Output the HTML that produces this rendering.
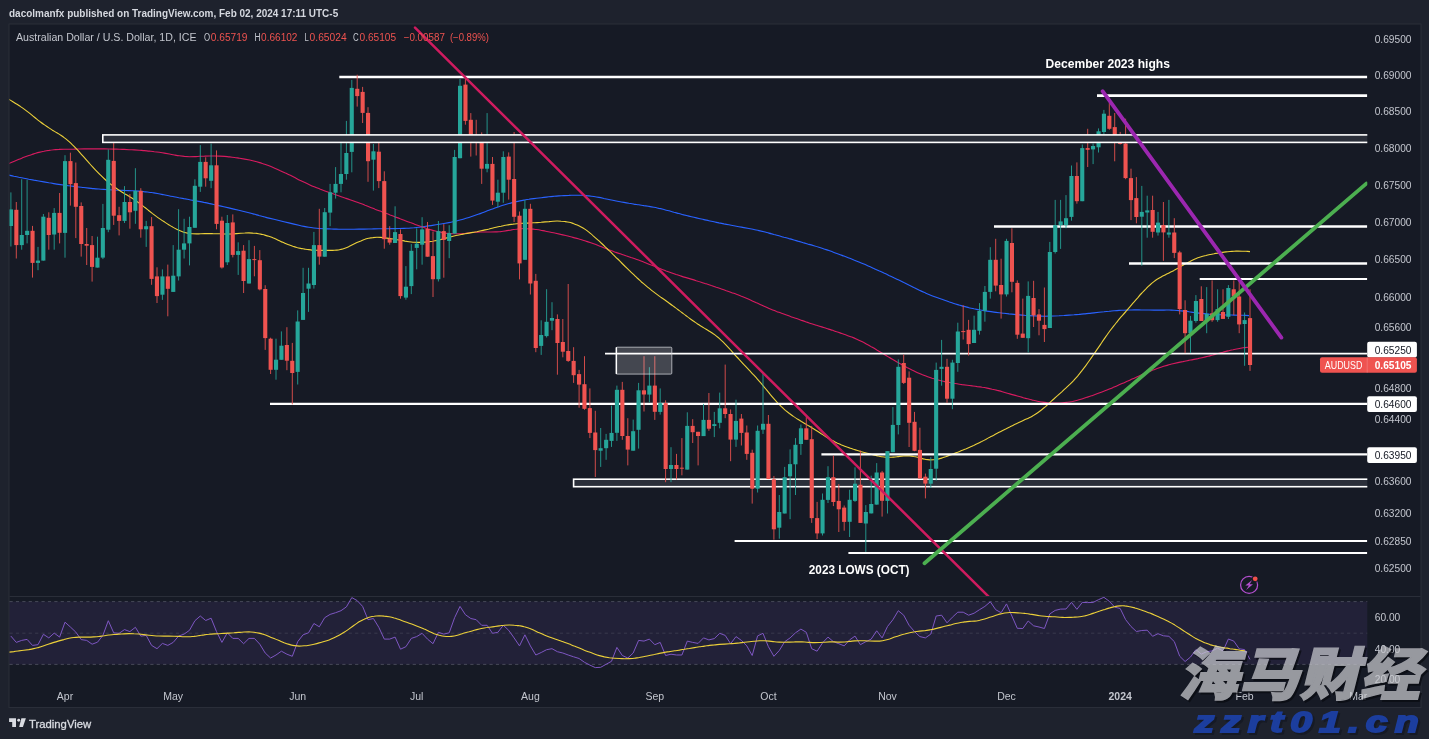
<!DOCTYPE html>
<html lang="en"><head><meta charset="utf-8"><title>AUDUSD chart</title>
<style>html,body{margin:0;padding:0;background:#1e222d;}body{width:1429px;height:739px;overflow:hidden;}svg{display:block;}</style>
</head><body>
<svg width="1429" height="739" viewBox="0 0 1429 739" font-family="'Liberation Sans', sans-serif">
<defs>
<clipPath id="cm"><rect x="9.5" y="24.5" width="1357.8" height="571.5"/></clipPath>
<clipPath id="cr"><rect x="9.5" y="596.5" width="1357.8" height="90"/></clipPath>
<filter id="bl" color-interpolation-filters="sRGB" x="-5%" y="-5%" width="110%" height="110%"><feGaussianBlur stdDeviation="0.45"/></filter>
<filter id="bl2" color-interpolation-filters="sRGB" x="0" y="0" width="100%" height="100%" filterUnits="userSpaceOnUse"><feGaussianBlur stdDeviation="0.35"/></filter>
</defs>
<rect width="1429" height="739" fill="#1e222d"/>
<g filter="url(#bl2)">
<rect x="9" y="24" width="1412" height="683.5" fill="#161a25" stroke="#2a2e39" stroke-width="1"/>
<text x="9" y="17.1" font-size="10.5" font-weight="700" fill="#d5d8df" textLength="329.2" lengthAdjust="spacingAndGlyphs">dacolmanfx published on TradingView.com, Feb 02, 2024 17:11 UTC-5</text>
<g clip-path="url(#cm)">
<path d="M8.8 175.1C9.7 175.3 12.2 175.8 13.8 176.2C15.5 176.5 17.2 176.8 18.8 177.2C20.5 177.5 22.2 177.9 23.8 178.2C25.5 178.5 27.2 178.8 28.8 179.2C30.5 179.5 32.2 179.8 33.8 180.1C35.5 180.4 37.2 180.7 38.8 181C40.5 181.3 42.2 181.6 43.8 181.9C45.5 182.2 47.2 182.5 48.8 182.8C50.5 183 52.2 183.3 53.8 183.6C55.5 183.9 57.2 184.2 58.8 184.4C60.5 184.7 62.2 184.9 63.8 185.1C65.5 185.4 67.2 185.6 68.8 185.8C70.5 186 72.2 186.2 73.8 186.4C75.5 186.6 77.2 186.8 78.8 187C80.5 187.2 82.2 187.3 83.8 187.5C85.5 187.7 87.2 187.9 88.8 188.1C90.5 188.3 92.2 188.4 93.8 188.6C95.5 188.8 97.2 188.9 98.8 189C100.5 189.2 102.2 189.3 103.8 189.4C105.5 189.5 107.2 189.6 108.8 189.7C110.5 189.8 112.2 189.9 113.8 190C115.5 190 117.2 190.1 118.8 190.2C120.5 190.2 122.2 190.3 123.8 190.4C125.5 190.4 127.2 190.5 128.8 190.6C130.5 190.7 132.2 190.7 133.8 190.8C135.5 190.9 137.2 191 138.8 191.1C140.5 191.2 142.2 191.4 143.8 191.6C145.5 191.7 147.2 192 148.8 192.2C150.5 192.4 152.2 192.7 153.8 192.9C155.5 193.2 157.2 193.5 158.8 193.8C160.5 194.1 162.2 194.5 163.8 194.8C165.5 195.1 167.2 195.4 168.8 195.7C170.5 196.1 172.2 196.4 173.8 196.7C175.5 197 177.2 197.3 178.8 197.7C180.5 198 182.2 198.3 183.8 198.6C185.5 198.9 187.2 199.2 188.8 199.5C190.5 199.9 192.2 200.2 193.8 200.5C195.5 200.8 197.2 201.1 198.8 201.4C200.5 201.7 202.2 202 203.8 202.4C205.5 202.7 207.2 203 208.8 203.4C210.5 203.7 212.2 204.1 213.8 204.5C215.5 204.8 217.2 205.2 218.8 205.6C220.5 205.9 222.2 206.3 223.8 206.7C225.5 207.1 227.2 207.5 228.8 207.9C230.5 208.3 232.2 208.7 233.8 209.1C235.5 209.5 237.2 209.9 238.8 210.3C240.5 210.7 242.2 211.1 243.8 211.5C245.5 212 247.2 212.4 248.9 212.8C250.5 213.3 252.2 213.7 253.9 214.1C255.5 214.6 257.2 215 258.9 215.5C260.5 215.9 262.2 216.4 263.9 216.8C265.5 217.2 267.2 217.7 268.9 218.1C270.5 218.5 272.2 218.9 273.9 219.3C275.5 219.7 277.2 220.1 278.9 220.5C280.5 220.9 282.2 221.3 283.9 221.7C285.5 222.1 287.2 222.5 288.9 222.9C290.5 223.3 292.2 223.7 293.9 224.1C295.5 224.5 297.2 224.9 298.9 225.3C300.5 225.7 302.2 226.1 303.9 226.4C305.5 226.8 307.2 227.1 308.9 227.3C310.5 227.6 312.2 227.8 313.9 228C315.5 228.2 317.2 228.4 318.9 228.5C320.5 228.6 322.2 228.7 323.9 228.8C325.5 228.8 327.2 228.9 328.9 228.9C330.5 229 332.2 229 333.9 229.1C335.5 229.1 337.2 229.2 338.9 229.2C340.5 229.2 342.2 229.2 343.9 229.3C345.5 229.3 347.2 229.3 348.9 229.3C350.5 229.3 352.2 229.2 353.9 229.2C355.5 229.2 357.2 229.2 358.9 229.1C360.5 229.1 362.2 229.1 363.9 229.1C365.5 229 367.2 229 368.9 229C370.5 229 372.2 228.9 373.9 228.9C375.5 228.9 377.2 228.9 378.9 228.8C380.5 228.8 382.2 228.8 383.9 228.8C385.5 228.7 387.2 228.7 388.9 228.7C390.5 228.7 392.2 228.6 393.9 228.6C395.5 228.6 397.2 228.6 398.9 228.5C400.5 228.5 402.2 228.5 403.9 228.4C405.5 228.3 407.2 228.3 408.9 228.2C410.5 228 412.2 227.9 413.9 227.8C415.5 227.6 417.2 227.5 418.9 227.3C420.5 227.1 422.2 226.9 423.9 226.6C425.5 226.4 427.2 226.2 428.9 225.9C430.5 225.7 432.2 225.4 433.9 225.1C435.5 224.9 437.2 224.6 438.9 224.3C440.5 224.1 442.2 223.8 443.9 223.5C445.5 223.2 447.2 222.9 448.9 222.6C450.5 222.3 452.2 221.9 453.9 221.5C455.5 221.2 457.2 220.8 458.9 220.3C460.5 219.9 462.2 219.5 463.9 219C465.5 218.5 467.2 218 468.9 217.5C470.5 217 472.2 216.4 473.9 215.8C475.5 215.3 477.2 214.7 478.9 214.1C480.5 213.5 482.2 212.9 483.9 212.2C485.5 211.6 487.2 211 488.9 210.3C490.5 209.7 492.2 209 493.9 208.4C495.6 207.8 497.2 207.2 498.9 206.7C500.6 206.1 502.2 205.6 503.9 205C505.6 204.5 507.2 204 508.9 203.5C510.6 203.1 512.2 202.6 513.9 202.2C515.6 201.8 517.2 201.5 518.9 201.1C520.6 200.8 522.2 200.4 523.9 200.1C525.6 199.8 527.2 199.5 528.9 199.3C530.6 199 532.2 198.8 533.9 198.6C535.6 198.4 537.2 198.2 538.9 198C540.6 197.8 542.2 197.6 543.9 197.4C545.6 197.2 547.2 197 548.9 196.8C550.6 196.7 552.2 196.5 553.9 196.3C555.6 196.2 557.2 196 558.9 195.9C560.6 195.8 562.2 195.7 563.9 195.6C565.6 195.5 567.2 195.4 568.9 195.4C570.6 195.3 572.2 195.3 573.9 195.2C575.6 195.2 577.2 195.2 578.9 195.2C580.6 195.3 582.2 195.3 583.9 195.4C585.6 195.6 587.2 195.7 588.9 195.9C590.6 196.1 592.2 196.3 593.9 196.5C595.6 196.8 597.2 197.1 598.9 197.4C600.6 197.7 602.2 198.1 603.9 198.5C605.6 198.8 607.2 199.2 608.9 199.5C610.6 199.8 612.2 200.2 613.9 200.5C615.6 200.9 617.2 201.2 618.9 201.5C620.6 201.8 622.2 202.1 623.9 202.4C625.6 202.7 627.2 203 628.9 203.3C630.6 203.5 632.2 203.8 633.9 204.1C635.6 204.3 637.2 204.6 638.9 204.8C640.6 205.1 642.2 205.3 643.9 205.6C645.6 205.8 647.2 206.1 648.9 206.4C650.6 206.7 652.2 207 653.9 207.3C655.6 207.6 657.2 208 658.9 208.4C660.6 208.7 662.2 209.1 663.9 209.5C665.6 210 667.2 210.4 668.9 210.8C670.6 211.3 672.2 211.7 673.9 212.2C675.6 212.6 677.2 213.1 678.9 213.5C680.6 214 682.2 214.4 683.9 214.9C685.6 215.3 687.2 215.7 688.9 216.1C690.6 216.5 692.2 216.9 693.9 217.3C695.6 217.7 697.2 218.1 698.9 218.5C700.6 218.9 702.2 219.2 703.9 219.6C705.6 220 707.2 220.3 708.9 220.7C710.6 221.1 712.2 221.4 713.9 221.8C715.6 222.2 717.2 222.5 718.9 222.9C720.6 223.2 722.2 223.5 723.9 223.9C725.6 224.2 727.2 224.5 728.9 224.8C730.6 225.2 732.2 225.5 733.9 225.8C735.6 226.1 737.2 226.4 738.9 226.7C740.6 227 742.2 227.3 743.9 227.6C745.6 227.9 747.3 228.2 748.9 228.5C750.6 228.8 752.3 229.2 753.9 229.5C755.6 229.9 757.3 230.2 758.9 230.6C760.6 231 762.3 231.4 763.9 231.8C765.6 232.2 767.3 232.7 768.9 233.1C770.6 233.5 772.3 234 773.9 234.5C775.6 234.9 777.3 235.4 778.9 235.8C780.6 236.3 782.3 236.7 783.9 237.2C785.6 237.6 787.3 238.1 788.9 238.6C790.6 239 792.3 239.5 793.9 240C795.6 240.5 797.3 240.9 798.9 241.4C800.6 241.9 802.3 242.4 803.9 242.9C805.6 243.4 807.3 243.9 808.9 244.4C810.6 244.8 812.3 245.3 813.9 245.8C815.6 246.3 817.3 246.8 818.9 247.3C820.6 247.9 822.3 248.4 823.9 248.9C825.6 249.5 827.3 250 828.9 250.6C830.6 251.2 832.3 251.8 833.9 252.4C835.6 253 837.3 253.6 838.9 254.2C840.6 254.8 842.3 255.5 843.9 256.1C845.6 256.7 847.3 257.4 848.9 258C850.6 258.7 852.3 259.3 853.9 260C855.6 260.6 857.3 261.3 858.9 262C860.6 262.7 862.3 263.4 863.9 264.1C865.6 264.8 867.3 265.6 868.9 266.3C870.6 267 872.3 267.8 873.9 268.5C875.6 269.3 877.3 270 878.9 270.8C880.6 271.5 882.3 272.3 883.9 273.1C885.6 273.8 887.3 274.6 888.9 275.4C890.6 276.1 892.3 276.9 893.9 277.7C895.6 278.5 897.3 279.3 898.9 280.1C900.6 280.9 902.3 281.8 903.9 282.6C905.6 283.4 907.3 284.3 908.9 285.1C910.6 285.9 912.3 286.8 913.9 287.6C915.6 288.4 917.3 289.2 918.9 290C920.6 290.8 922.3 291.6 923.9 292.3C925.6 293 927.3 293.8 928.9 294.4C930.6 295.1 932.3 295.8 933.9 296.4C935.6 297.1 937.3 297.7 938.9 298.3C940.6 298.9 942.3 299.4 943.9 300C945.6 300.6 947.3 301.2 948.9 301.8C950.6 302.3 952.3 302.9 953.9 303.4C955.6 304 957.3 304.5 958.9 305C960.6 305.5 962.3 305.9 963.9 306.4C965.6 306.8 967.3 307.3 968.9 307.7C970.6 308.1 972.3 308.4 973.9 308.8C975.6 309.1 977.3 309.5 978.9 309.8C980.6 310.1 982.3 310.4 983.9 310.6C985.6 310.9 987.3 311.2 988.9 311.4C990.6 311.7 992.3 311.9 994 312.1C995.6 312.4 997.3 312.6 999 312.8C1000.6 313 1002.3 313.1 1004 313.3C1005.6 313.5 1007.3 313.7 1009 313.9C1010.6 314.1 1012.3 314.3 1014 314.4C1015.6 314.6 1017.3 314.7 1019 314.9C1020.6 315 1022.3 315.1 1024 315.3C1025.6 315.4 1027.3 315.5 1029 315.6C1030.6 315.7 1032.3 315.8 1034 315.9C1035.6 316 1037.3 316 1039 316.1C1040.6 316.1 1042.3 316.2 1044 316.2C1045.6 316.2 1047.3 316.2 1049 316.1C1050.6 316.1 1052.3 316.1 1054 316C1055.6 315.9 1057.3 315.8 1059 315.8C1060.6 315.7 1062.3 315.6 1064 315.5C1065.6 315.3 1067.3 315.2 1069 315.1C1070.6 315 1072.3 314.9 1074 314.8C1075.6 314.6 1077.3 314.5 1079 314.4C1080.6 314.2 1082.3 314.1 1084 313.9C1085.6 313.7 1087.3 313.6 1089 313.4C1090.6 313.2 1092.3 313.1 1094 312.9C1095.6 312.7 1097.3 312.5 1099 312.3C1100.6 312.1 1102.3 311.9 1104 311.8C1105.6 311.6 1107.3 311.4 1109 311.3C1110.6 311.1 1112.3 311 1114 310.8C1115.6 310.7 1117.3 310.6 1119 310.4C1120.6 310.3 1122.3 310.3 1124 310.2C1125.6 310.1 1127.3 310.1 1129 310C1130.6 310 1132.3 309.9 1134 309.9C1135.6 309.9 1137.3 309.9 1139 309.9C1140.6 309.9 1142.3 310 1144 310C1145.6 310 1147.3 310 1149 310C1150.6 310.1 1152.3 310.1 1154 310.1C1155.6 310.1 1157.3 310.1 1159 310.1C1160.6 310.1 1162.3 310.1 1164 310.1C1165.6 310.1 1167.3 310 1169 310C1170.6 310.1 1172.3 310.1 1174 310.2C1175.6 310.3 1177.3 310.4 1179 310.6C1180.6 310.7 1182.3 310.9 1184 311.1C1185.6 311.3 1187.3 311.5 1189 311.8C1190.6 312 1192.3 312.3 1194 312.5C1195.6 312.7 1197.3 312.9 1199 313.1C1200.6 313.3 1202.3 313.5 1204 313.6C1205.6 313.8 1207.3 313.9 1209 314.1C1210.6 314.2 1212.3 314.3 1214 314.4C1215.6 314.5 1217.3 314.6 1219 314.7C1220.6 314.8 1222.3 314.8 1224 314.9C1225.6 314.9 1227.3 314.9 1229 315C1230.6 315 1232.3 315.1 1234 315.1C1235.6 315.2 1237.3 315.2 1239 315.2C1240.7 315.3 1242.3 315.3 1244 315.3C1245.7 315.4 1248.2 315.5 1249 315.6" fill="none" stroke="#2962ff" stroke-width="1.1" stroke-linejoin="round"/>
<path d="M8.8 163.6C9.7 163.2 12.2 162.1 13.8 161.4C15.5 160.7 17.2 160 18.9 159.3C20.5 158.6 22.2 158 23.9 157.3C25.5 156.7 27.2 156.1 28.9 155.5C30.6 155 32.2 154.4 33.9 153.9C35.6 153.4 37.3 152.8 38.9 152.4C40.6 152 42.3 151.6 43.9 151.3C45.6 150.9 47.3 150.6 49 150.4C50.6 150.1 52.3 149.9 54 149.7C55.6 149.6 57.3 149.4 59 149.4C60.7 149.3 62.3 149.3 64 149.3C65.7 149.2 67.4 149.2 69 149.2C70.7 149.1 72.4 149.1 74 149.1C75.7 149 77.4 149 79.1 149C80.7 149 82.4 149 84.1 148.9C85.8 148.9 87.4 148.9 89.1 148.9C90.8 148.9 92.4 148.9 94.1 148.9C95.8 148.9 97.5 148.9 99.1 148.9C100.8 148.9 102.5 148.9 104.2 148.9C105.8 148.9 107.5 148.9 109.2 149C110.8 149 112.5 149 114.2 149.1C115.9 149.1 117.5 149.2 119.2 149.2C120.9 149.3 122.5 149.4 124.2 149.4C125.9 149.5 127.6 149.6 129.2 149.7C130.9 149.8 132.6 149.8 134.3 149.9C135.9 150 137.6 150.1 139.3 150.2C140.9 150.3 142.6 150.5 144.3 150.6C146 150.8 147.6 150.9 149.3 151.1C151 151.3 152.7 151.4 154.3 151.7C156 151.9 157.7 152.1 159.3 152.3C161 152.6 162.7 152.9 164.4 153.1C166 153.4 167.7 153.7 169.4 154C171.1 154.4 172.7 154.7 174.4 155C176.1 155.3 177.7 155.6 179.4 155.8C181.1 156 182.8 156.2 184.4 156.4C186.1 156.5 187.8 156.6 189.4 156.7C191.1 156.7 192.8 156.7 194.5 156.6C196.1 156.6 197.8 156.4 199.5 156.3C201.2 156.2 202.8 156.1 204.5 156.1C206.2 156 207.8 156 209.5 156C211.2 156 212.9 156 214.5 156C216.2 156 217.9 156 219.6 156.1C221.2 156.2 222.9 156.3 224.6 156.4C226.2 156.6 227.9 156.7 229.6 156.9C231.3 157.1 232.9 157.3 234.6 157.5C236.3 157.7 238 158 239.6 158.2C241.3 158.5 243 158.8 244.6 159.1C246.3 159.4 248 159.7 249.7 160C251.3 160.4 253 160.8 254.7 161.2C256.3 161.6 258 162.1 259.7 162.6C261.4 163.1 263 163.7 264.7 164.2C266.4 164.8 268.1 165.4 269.7 166.1C271.4 166.8 273.1 167.5 274.7 168.2C276.4 168.9 278.1 169.6 279.8 170.4C281.4 171.1 283.1 171.9 284.8 172.7C286.5 173.4 288.1 174.3 289.8 175.1C291.5 175.9 293.1 176.8 294.8 177.6C296.5 178.5 298.2 179.3 299.8 180.2C301.5 181 303.2 181.8 304.9 182.6C306.5 183.4 308.2 184.2 309.9 184.9C311.5 185.7 313.2 186.4 314.9 187.1C316.6 187.8 318.2 188.4 319.9 189.1C321.6 189.7 323.2 190.3 324.9 190.9C326.6 191.5 328.3 192.1 329.9 192.7C331.6 193.3 333.3 193.9 335 194.5C336.6 195.1 338.3 195.7 340 196.3C341.6 196.9 343.3 197.4 345 198C346.7 198.6 348.3 199.2 350 199.7C351.7 200.3 353.4 200.9 355 201.5C356.7 202.1 358.4 202.7 360 203.3C361.7 203.9 363.4 204.5 365.1 205.2C366.7 205.8 368.4 206.5 370.1 207.2C371.7 207.9 373.4 208.5 375.1 209.2C376.8 209.8 378.4 210.5 380.1 211.1C381.8 211.8 383.5 212.4 385.1 213.1C386.8 213.7 388.5 214.3 390.1 215C391.8 215.6 393.5 216.2 395.2 216.9C396.8 217.5 398.5 218.1 400.2 218.8C401.9 219.4 403.5 220.1 405.2 220.7C406.9 221.3 408.5 221.9 410.2 222.6C411.9 223.2 413.6 223.8 415.2 224.4C416.9 225 418.6 225.6 420.3 226.2C421.9 226.8 423.6 227.5 425.3 228C426.9 228.6 428.6 229.1 430.3 229.6C432 230.1 433.6 230.6 435.3 231C437 231.4 438.6 231.8 440.3 232.1C442 232.5 443.7 232.8 445.3 233.1C447 233.3 448.7 233.5 450.4 233.6C452 233.7 453.7 233.8 455.4 233.8C457 233.8 458.7 233.8 460.4 233.7C462.1 233.7 463.7 233.5 465.4 233.4C467.1 233.2 468.8 233 470.4 232.8C472.1 232.7 473.8 232.5 475.4 232.3C477.1 232.2 478.8 232.1 480.5 232C482.1 232 483.8 232 485.5 232C487.2 232 488.8 232 490.5 232C492.2 232 493.8 232 495.5 231.9C497.2 231.9 498.9 231.7 500.5 231.6C502.2 231.4 503.9 231.1 505.5 230.9C507.2 230.6 508.9 230.3 510.6 230.1C512.2 229.8 513.9 229.5 515.6 229.3C517.3 229 518.9 228.8 520.6 228.7C522.3 228.6 523.9 228.5 525.6 228.6C527.3 228.6 529 228.7 530.6 228.9C532.3 229 534 229.2 535.7 229.5C537.3 229.7 539 229.9 540.7 230.2C542.3 230.5 544 230.9 545.7 231.2C547.4 231.5 549 231.9 550.7 232.2C552.4 232.5 554.1 232.9 555.7 233.2C557.4 233.6 559.1 234 560.7 234.4C562.4 234.7 564.1 235.1 565.8 235.5C567.4 235.9 569.1 236.4 570.8 236.8C572.4 237.2 574.1 237.7 575.8 238.1C577.5 238.6 579.1 239 580.8 239.5C582.5 240 584.2 240.5 585.8 241.1C587.5 241.6 589.2 242.2 590.8 242.8C592.5 243.4 594.2 244 595.9 244.6C597.5 245.3 599.2 245.9 600.9 246.6C602.6 247.3 604.2 248 605.9 248.6C607.6 249.3 609.2 249.9 610.9 250.5C612.6 251.2 614.3 251.8 615.9 252.4C617.6 252.9 619.3 253.5 621 254.1C622.6 254.7 624.3 255.2 626 255.8C627.6 256.3 629.3 256.9 631 257.5C632.7 258 634.3 258.6 636 259.2C637.7 259.8 639.3 260.4 641 261C642.7 261.7 644.4 262.3 646 262.9C647.7 263.6 649.4 264.3 651.1 264.9C652.7 265.6 654.4 266.3 656.1 266.9C657.7 267.6 659.4 268.3 661.1 268.9C662.8 269.6 664.4 270.2 666.1 270.9C667.8 271.5 669.5 272.1 671.1 272.7C672.8 273.3 674.5 273.9 676.1 274.5C677.8 275 679.5 275.6 681.2 276.1C682.8 276.6 684.5 277.1 686.2 277.6C687.9 278.1 689.5 278.6 691.2 279.1C692.9 279.6 694.5 280.1 696.2 280.7C697.9 281.2 699.6 281.7 701.2 282.2C702.9 282.7 704.6 283.3 706.2 283.8C707.9 284.3 709.6 284.9 711.3 285.5C712.9 286 714.6 286.6 716.3 287.2C718 287.7 719.6 288.3 721.3 288.9C723 289.5 724.6 290.1 726.3 290.7C728 291.2 729.7 291.8 731.3 292.4C733 293 734.7 293.7 736.4 294.3C738 294.9 739.7 295.6 741.4 296.3C743 296.9 744.7 297.6 746.4 298.3C748.1 299.1 749.7 299.8 751.4 300.5C753.1 301.3 754.8 302 756.4 302.8C758.1 303.5 759.8 304.3 761.4 305C763.1 305.8 764.8 306.5 766.5 307.2C768.1 308 769.8 308.7 771.5 309.4C773.1 310.1 774.8 310.7 776.5 311.4C778.2 312 779.8 312.7 781.5 313.3C783.2 313.9 784.9 314.5 786.5 315.1C788.2 315.7 789.9 316.3 791.5 316.9C793.2 317.5 794.9 318 796.6 318.6C798.2 319.2 799.9 319.8 801.6 320.4C803.3 320.9 804.9 321.5 806.6 322.1C808.3 322.6 809.9 323.2 811.6 323.7C813.3 324.3 815 324.8 816.6 325.3C818.3 325.9 820 326.4 821.7 326.9C823.3 327.4 825 328 826.7 328.5C828.3 329 830 329.6 831.7 330.1C833.4 330.7 835 331.2 836.7 331.8C838.4 332.3 840 332.9 841.7 333.5C843.4 334.1 845.1 334.6 846.7 335.2C848.4 335.8 850.1 336.5 851.8 337.1C853.4 337.8 855.1 338.5 856.8 339.2C858.4 340 860.1 340.8 861.8 341.6C863.5 342.4 865.1 343.3 866.8 344.2C868.5 345.1 870.2 346.1 871.8 347.1C873.5 348 875.2 349 876.8 350C878.5 351 880.2 352 881.9 353C883.5 354 885.2 355 886.9 356C888.6 357 890.2 358 891.9 359C893.6 360 895.2 361 896.9 361.9C898.6 362.9 900.3 363.8 901.9 364.8C903.6 365.7 905.3 366.6 906.9 367.5C908.6 368.3 910.3 369.2 912 370.1C913.6 370.9 915.3 371.7 917 372.4C918.7 373.2 920.3 373.9 922 374.6C923.7 375.2 925.3 375.9 927 376.5C928.7 377.1 930.4 377.7 932 378.3C933.7 378.8 935.4 379.3 937.1 379.7C938.7 380.2 940.4 380.6 942.1 381C943.7 381.4 945.4 381.7 947.1 382.1C948.8 382.4 950.4 382.7 952.1 383C953.8 383.3 955.5 383.6 957.1 383.8C958.8 384.1 960.5 384.3 962.1 384.6C963.8 384.8 965.5 385 967.2 385.2C968.8 385.5 970.5 385.7 972.2 385.9C973.8 386.1 975.5 386.3 977.2 386.6C978.9 386.8 980.5 387 982.2 387.3C983.9 387.5 985.6 387.8 987.2 388.1C988.9 388.4 990.6 388.8 992.2 389.2C993.9 389.5 995.6 389.9 997.3 390.4C998.9 390.8 1000.6 391.2 1002.3 391.7C1004 392.2 1005.6 392.7 1007.3 393.2C1009 393.7 1010.6 394.1 1012.3 394.6C1014 395.1 1015.7 395.6 1017.3 396C1019 396.5 1020.7 397 1022.4 397.4C1024 397.9 1025.7 398.3 1027.4 398.7C1029 399.2 1030.7 399.6 1032.4 400.1C1034.1 400.5 1035.7 400.9 1037.4 401.2C1039.1 401.6 1040.7 401.9 1042.4 402.1C1044.1 402.4 1045.8 402.6 1047.4 402.7C1049.1 402.9 1050.8 403 1052.5 403C1054.1 403.1 1055.8 403.1 1057.5 403.1C1059.1 403.1 1060.8 403 1062.5 402.8C1064.2 402.7 1065.8 402.5 1067.5 402.3C1069.2 402.1 1070.9 401.8 1072.5 401.5C1074.2 401.1 1075.9 400.7 1077.5 400.3C1079.2 399.9 1080.9 399.3 1082.6 398.8C1084.2 398.3 1085.9 397.7 1087.6 397.1C1089.3 396.6 1090.9 396 1092.6 395.4C1094.3 394.8 1095.9 394.2 1097.6 393.6C1099.3 393 1101 392.4 1102.6 391.7C1104.3 391.1 1106 390.4 1107.6 389.7C1109.3 389 1111 388.4 1112.7 387.7C1114.3 387 1116 386.3 1117.7 385.5C1119.4 384.8 1121 384.1 1122.7 383.3C1124.4 382.6 1126 381.8 1127.7 381.1C1129.4 380.3 1131.1 379.6 1132.7 378.8C1134.4 378 1136.1 377.3 1137.8 376.5C1139.4 375.8 1141.1 375 1142.8 374.3C1144.4 373.6 1146.1 372.8 1147.8 372.2C1149.5 371.5 1151.1 370.8 1152.8 370.1C1154.5 369.5 1156.2 368.8 1157.8 368.2C1159.5 367.6 1161.2 367.1 1162.8 366.6C1164.5 366.1 1166.2 365.6 1167.9 365.1C1169.5 364.7 1171.2 364.2 1172.9 363.8C1174.5 363.4 1176.2 363 1177.9 362.6C1179.6 362.2 1181.2 361.9 1182.9 361.6C1184.6 361.2 1186.3 360.9 1187.9 360.6C1189.6 360.3 1191.3 359.9 1192.9 359.6C1194.6 359.3 1196.3 358.9 1198 358.6C1199.6 358.2 1201.3 357.9 1203 357.5C1204.7 357.1 1206.3 356.7 1208 356.3C1209.7 355.9 1211.3 355.4 1213 355C1214.7 354.5 1216.4 354.1 1218 353.6C1219.7 353.1 1221.4 352.7 1223.1 352.2C1224.7 351.8 1226.4 351.3 1228.1 350.9C1229.7 350.4 1231.4 350 1233.1 349.7C1234.8 349.3 1236.4 349 1238.1 348.7C1239.8 348.4 1241.4 348.1 1243.1 347.8C1244.8 347.6 1247.3 347.3 1248.1 347.2" fill="none" stroke="#d81b60" stroke-width="1.1" stroke-linejoin="round"/>
<path d="M8.5 99.1C9.1 99.5 11.1 100.7 12.5 101.5C13.8 102.3 15.1 103.1 16.5 104C17.8 104.8 19.1 105.7 20.5 106.6C21.8 107.5 23.1 108.4 24.5 109.4C25.8 110.4 27.1 111.4 28.5 112.4C29.8 113.4 31.2 114.5 32.5 115.6C33.8 116.7 35.2 117.8 36.5 118.9C37.8 120 39.2 121 40.5 122C41.8 123 43.2 124 44.5 124.9C45.8 125.8 47.2 126.7 48.5 127.6C49.8 128.5 51.2 129.3 52.5 130.2C53.8 131 55.2 131.8 56.5 132.6C57.9 133.4 59.2 134.1 60.5 135C61.9 135.9 63.2 136.8 64.5 137.9C65.9 138.9 67.2 140 68.5 141.1C69.9 142.3 71.2 143.5 72.5 144.8C73.9 146.1 75.2 147.4 76.5 148.9C77.9 150.3 79.2 151.8 80.5 153.4C81.9 154.9 83.2 156.4 84.6 157.9C85.9 159.4 87.2 160.9 88.6 162.4C89.9 163.9 91.2 165.5 92.6 166.9C93.9 168.4 95.2 169.8 96.6 171.2C97.9 172.6 99.2 173.9 100.6 175.2C101.9 176.5 103.2 177.8 104.6 179C105.9 180.2 107.2 181.4 108.6 182.5C109.9 183.6 111.3 184.6 112.6 185.6C113.9 186.6 115.3 187.6 116.6 188.5C117.9 189.5 119.3 190.3 120.6 191.2C121.9 192.1 123.3 192.9 124.6 193.7C125.9 194.5 127.3 195.2 128.6 196C129.9 196.8 131.3 197.6 132.6 198.5C133.9 199.3 135.3 200.2 136.6 201.2C138 202.1 139.3 203.1 140.6 204.1C142 205.1 143.3 206.2 144.6 207.3C146 208.3 147.3 209.5 148.6 210.5C150 211.6 151.3 212.6 152.6 213.6C154 214.6 155.3 215.6 156.6 216.6C158 217.6 159.3 218.5 160.6 219.4C162 220.4 163.3 221.2 164.7 222.1C166 223 167.3 223.9 168.7 224.7C170 225.5 171.3 226.4 172.7 227.1C174 227.9 175.3 228.6 176.7 229.3C178 229.9 179.3 230.6 180.7 231.1C182 231.7 183.3 232.1 184.7 232.5C186 232.9 187.3 233.1 188.7 233.4C190 233.6 191.4 233.7 192.7 233.8C194 233.9 195.4 233.9 196.7 233.9C198 233.9 199.4 233.8 200.7 233.8C202 233.7 203.4 233.6 204.7 233.6C206 233.6 207.4 233.6 208.7 233.5C210 233.5 211.4 233.5 212.7 233.6C214 233.6 215.4 233.6 216.7 233.7C218.1 233.7 219.4 233.8 220.7 233.8C222.1 233.9 223.4 234 224.7 234C226.1 234 227.4 234 228.7 234C230.1 234 231.4 233.9 232.7 233.9C234.1 233.8 235.4 233.7 236.7 233.6C238.1 233.5 239.4 233.4 240.7 233.3C242.1 233.1 243.4 233 244.8 233C246.1 232.9 247.4 232.9 248.8 232.9C250.1 232.9 251.4 233 252.8 233.1C254.1 233.1 255.4 233.3 256.8 233.4C258.1 233.6 259.4 233.9 260.8 234.1C262.1 234.4 263.4 234.8 264.8 235.1C266.1 235.5 267.4 235.9 268.8 236.3C270.1 236.8 271.5 237.2 272.8 237.8C274.1 238.3 275.5 238.9 276.8 239.5C278.1 240.1 279.5 240.8 280.8 241.4C282.1 242 283.5 242.6 284.8 243.2C286.1 243.8 287.5 244.3 288.8 244.8C290.1 245.3 291.5 245.8 292.8 246.3C294.1 246.7 295.5 247.1 296.8 247.5C298.2 247.8 299.5 248.1 300.8 248.4C302.2 248.6 303.5 248.9 304.8 249.1C306.2 249.3 307.5 249.5 308.8 249.6C310.2 249.8 311.5 249.9 312.8 250.1C314.2 250.2 315.5 250.2 316.8 250.3C318.2 250.4 319.5 250.4 320.8 250.4C322.2 250.4 323.5 250.4 324.9 250.4C326.2 250.4 327.5 250.4 328.9 250.4C330.2 250.4 331.5 250.4 332.9 250.4C334.2 250.3 335.5 250.3 336.9 250.1C338.2 250 339.5 249.7 340.9 249.4C342.2 249.1 343.5 248.7 344.9 248.2C346.2 247.8 347.5 247.2 348.9 246.6C350.2 246 351.6 245.3 352.9 244.6C354.2 244 355.6 243.3 356.9 242.6C358.2 242 359.6 241.4 360.9 240.9C362.2 240.3 363.6 239.7 364.9 239.3C366.2 238.8 367.6 238.5 368.9 238.2C370.2 237.9 371.6 237.7 372.9 237.6C374.2 237.4 375.6 237.3 376.9 237.3C378.3 237.3 379.6 237.3 380.9 237.4C382.3 237.5 383.6 237.7 384.9 237.9C386.3 238 387.6 238.2 388.9 238.4C390.3 238.6 391.6 238.8 392.9 239C394.3 239.2 395.6 239.5 396.9 239.7C398.3 239.9 399.6 240.1 400.9 240.4C402.3 240.6 403.6 240.8 405 241.1C406.3 241.3 407.6 241.5 409 241.7C410.3 241.9 411.6 242.1 413 242.2C414.3 242.3 415.6 242.3 417 242.4C418.3 242.4 419.6 242.4 421 242.4C422.3 242.3 423.6 242.2 425 242.1C426.3 242 427.6 241.9 429 241.7C430.3 241.6 431.7 241.4 433 241.2C434.3 240.9 435.7 240.7 437 240.4C438.3 240.1 439.7 239.8 441 239.5C442.3 239.2 443.7 238.8 445 238.4C446.3 238.1 447.7 237.6 449 237.3C450.3 236.9 451.7 236.6 453 236.2C454.3 235.9 455.7 235.6 457 235.3C458.4 235 459.7 234.8 461 234.5C462.4 234.3 463.7 234 465 233.8C466.4 233.6 467.7 233.4 469 233.1C470.4 232.9 471.7 232.7 473 232.4C474.4 232.2 475.7 231.9 477 231.7C478.4 231.4 479.7 231.1 481 230.8C482.4 230.5 483.7 230.2 485.1 229.9C486.4 229.6 487.7 229.3 489.1 229C490.4 228.6 491.7 228.3 493.1 228C494.4 227.7 495.7 227.3 497.1 227C498.4 226.7 499.7 226.4 501.1 226.2C502.4 225.9 503.7 225.6 505.1 225.3C506.4 225.1 507.7 224.8 509.1 224.6C510.4 224.4 511.8 224.2 513.1 224.1C514.4 223.9 515.8 223.8 517.1 223.7C518.4 223.6 519.8 223.5 521.1 223.4C522.4 223.3 523.8 223.3 525.1 223.2C526.4 223.2 527.8 223.1 529.1 223.1C530.4 223 531.8 222.9 533.1 222.8C534.4 222.8 535.8 222.7 537.1 222.6C538.5 222.5 539.8 222.4 541.1 222.3C542.5 222.1 543.8 222 545.1 221.9C546.5 221.8 547.8 221.7 549.1 221.6C550.5 221.4 551.8 221.3 553.1 221.2C554.5 221.1 555.8 221 557.1 221C558.5 221 559.8 221.1 561.1 221.2C562.5 221.2 563.8 221.4 565.2 221.6C566.5 221.8 567.8 222 569.2 222.3C570.5 222.6 571.8 223 573.2 223.4C574.5 223.9 575.8 224.4 577.2 225C578.5 225.6 579.8 226.3 581.2 227C582.5 227.7 583.8 228.5 585.2 229.4C586.5 230.3 587.8 231.3 589.2 232.4C590.5 233.5 591.9 234.6 593.2 235.8C594.5 236.9 595.9 238.1 597.2 239.3C598.5 240.5 599.9 241.7 601.2 243C602.5 244.2 603.9 245.5 605.2 246.8C606.5 248.1 607.9 249.4 609.2 250.7C610.5 251.9 611.9 253.2 613.2 254.6C614.5 255.9 615.9 257.2 617.2 258.5C618.6 259.8 619.9 261.2 621.2 262.5C622.6 263.9 623.9 265.2 625.2 266.5C626.6 267.8 627.9 269.1 629.2 270.4C630.6 271.7 631.9 273 633.2 274.2C634.6 275.5 635.9 276.8 637.2 278C638.6 279.2 639.9 280.5 641.2 281.7C642.6 282.8 643.9 284 645.3 285.1C646.6 286.2 647.9 287.3 649.3 288.4C650.6 289.5 651.9 290.6 653.3 291.6C654.6 292.6 655.9 293.6 657.3 294.6C658.6 295.6 659.9 296.5 661.3 297.5C662.6 298.4 663.9 299.4 665.3 300.3C666.6 301.3 667.9 302.2 669.3 303.2C670.6 304.2 672 305.2 673.3 306.1C674.6 307.1 676 308.1 677.3 309.1C678.6 310.1 680 311.1 681.3 312.1C682.6 313.1 684 314.1 685.3 315.1C686.6 316.1 688 317.1 689.3 318.1C690.6 319.1 692 320.1 693.3 321C694.6 321.9 696 322.8 697.3 323.7C698.7 324.6 700 325.5 701.3 326.3C702.7 327.1 704 328 705.3 328.8C706.7 329.6 708 330.4 709.3 331.2C710.7 332.1 712 332.8 713.3 333.8C714.7 334.7 716 335.7 717.3 336.8C718.7 337.9 720 339.1 721.3 340.4C722.7 341.6 724 342.9 725.4 344.3C726.7 345.7 728 347.1 729.4 348.6C730.7 350 732 351.6 733.4 353.1C734.7 354.6 736 356 737.4 357.5C738.7 358.9 740 360.4 741.4 361.8C742.7 363.3 744 364.7 745.4 366.1C746.7 367.5 748 368.9 749.4 370.4C750.7 371.8 752.1 373.2 753.4 374.7C754.7 376.1 756.1 377.6 757.4 379.1C758.7 380.6 760.1 382.2 761.4 383.7C762.7 385.3 764.1 386.9 765.4 388.5C766.7 390.1 768.1 391.8 769.4 393.4C770.7 395 772.1 396.7 773.4 398.2C774.7 399.7 776.1 401.2 777.4 402.6C778.8 404.1 780.1 405.4 781.4 406.7C782.8 408 784.1 409.3 785.4 410.4C786.8 411.5 788.1 412.5 789.4 413.5C790.8 414.5 792.1 415.5 793.4 416.4C794.8 417.3 796.1 418.2 797.4 419.1C798.8 419.9 800.1 420.7 801.4 421.5C802.8 422.3 804.1 423.1 805.5 423.9C806.8 424.7 808.1 425.5 809.5 426.3C810.8 427.1 812.1 427.9 813.5 428.8C814.8 429.6 816.1 430.4 817.5 431.3C818.8 432.2 820.1 433.1 821.5 433.9C822.8 434.8 824.1 435.7 825.5 436.5C826.8 437.3 828.1 438.1 829.5 438.9C830.8 439.7 832.2 440.4 833.5 441.1C834.8 441.8 836.2 442.5 837.5 443.2C838.8 443.8 840.2 444.3 841.5 444.9C842.8 445.4 844.2 446 845.5 446.5C846.8 447 848.2 447.5 849.5 447.9C850.8 448.4 852.2 448.8 853.5 449.3C854.8 449.7 856.2 450.1 857.5 450.5C858.9 450.9 860.2 451.3 861.5 451.7C862.9 452.1 864.2 452.5 865.5 452.8C866.9 453.2 868.2 453.5 869.5 453.9C870.9 454.2 872.2 454.6 873.5 454.9C874.9 455.2 876.2 455.5 877.5 455.9C878.9 456.2 880.2 456.5 881.5 456.7C882.9 456.9 884.2 457.1 885.6 457.2C886.9 457.3 888.2 457.4 889.6 457.3C890.9 457.3 892.2 457.2 893.6 457.1C894.9 457 896.2 456.8 897.6 456.6C898.9 456.5 900.2 456.2 901.6 456.1C902.9 456 904.2 455.9 905.6 455.8C906.9 455.8 908.2 455.8 909.6 455.9C910.9 456 912.3 456.2 913.6 456.5C914.9 456.7 916.3 457 917.6 457.3C918.9 457.7 920.3 458.1 921.6 458.4C922.9 458.8 924.3 459.1 925.6 459.4C926.9 459.6 928.3 459.8 929.6 459.9C930.9 459.9 932.3 459.9 933.6 459.8C934.9 459.7 936.3 459.5 937.6 459.2C939 459 940.3 458.5 941.6 458.1C943 457.7 944.3 457.2 945.6 456.8C947 456.3 948.3 455.8 949.6 455.3C951 454.8 952.3 454.3 953.6 453.8C955 453.3 956.3 452.8 957.6 452.3C959 451.7 960.3 451.2 961.6 450.6C963 450.1 964.3 449.5 965.7 449C967 448.4 968.3 447.8 969.7 447.2C971 446.7 972.3 446 973.7 445.4C975 444.8 976.3 444.2 977.7 443.5C979 442.9 980.3 442.2 981.7 441.5C983 440.8 984.3 440.1 985.7 439.4C987 438.7 988.3 438 989.7 437.3C991 436.6 992.4 435.9 993.7 435.2C995 434.4 996.4 433.7 997.7 433C999 432.3 1000.4 431.6 1001.7 430.9C1003 430.2 1004.4 429.5 1005.7 428.9C1007 428.2 1008.4 427.5 1009.7 426.9C1011 426.2 1012.4 425.6 1013.7 424.9C1015 424.3 1016.4 423.7 1017.7 423.1C1019.1 422.4 1020.4 421.8 1021.7 421.2C1023.1 420.6 1024.4 419.9 1025.7 419.3C1027.1 418.7 1028.4 418.1 1029.7 417.4C1031.1 416.8 1032.4 416 1033.7 415.3C1035.1 414.5 1036.4 413.6 1037.7 412.7C1039.1 411.7 1040.4 410.7 1041.7 409.7C1043.1 408.6 1044.4 407.5 1045.8 406.4C1047.1 405.2 1048.4 403.9 1049.8 402.7C1051.1 401.5 1052.4 400.2 1053.8 399C1055.1 397.8 1056.4 396.6 1057.8 395.4C1059.1 394.2 1060.4 393 1061.8 391.8C1063.1 390.6 1064.4 389.4 1065.8 388.2C1067.1 386.9 1068.4 385.7 1069.8 384.4C1071.1 383.1 1072.5 381.7 1073.8 380.3C1075.1 378.8 1076.5 377.3 1077.8 375.8C1079.1 374.2 1080.5 372.6 1081.8 370.9C1083.1 369.2 1084.5 367.4 1085.8 365.6C1087.1 363.8 1088.5 361.8 1089.8 360C1091.1 358.1 1092.5 356.2 1093.8 354.2C1095.1 352.3 1096.5 350.4 1097.8 348.4C1099.2 346.4 1100.5 344.4 1101.8 342.5C1103.2 340.5 1104.5 338.5 1105.8 336.6C1107.2 334.7 1108.5 332.8 1109.8 331C1111.2 329.2 1112.5 327.5 1113.8 325.8C1115.2 324.1 1116.5 322.4 1117.8 320.8C1119.2 319.2 1120.5 317.6 1121.8 316.1C1123.2 314.5 1124.5 313 1125.9 311.5C1127.2 310 1128.5 308.4 1129.9 306.8C1131.2 305.3 1132.5 303.7 1133.9 302.2C1135.2 300.6 1136.5 299.1 1137.9 297.6C1139.2 296 1140.5 294.4 1141.9 293C1143.2 291.5 1144.5 290.1 1145.9 288.8C1147.2 287.4 1148.5 286.1 1149.9 285C1151.2 283.8 1152.6 282.6 1153.9 281.6C1155.2 280.6 1156.6 279.6 1157.9 278.8C1159.2 277.9 1160.6 277.3 1161.9 276.5C1163.2 275.8 1164.6 275.1 1165.9 274.4C1167.2 273.7 1168.6 273.1 1169.9 272.4C1171.2 271.7 1172.6 271.1 1173.9 270.4C1175.2 269.6 1176.6 268.9 1177.9 268.2C1179.3 267.4 1180.6 266.6 1181.9 265.8C1183.3 265 1184.6 264.2 1185.9 263.5C1187.3 262.7 1188.6 262 1189.9 261.4C1191.3 260.7 1192.6 260 1193.9 259.4C1195.3 258.9 1196.6 258.3 1197.9 257.8C1199.3 257.3 1200.6 256.9 1201.9 256.5C1203.3 256.1 1204.6 255.8 1206 255.5C1207.3 255.1 1208.6 254.8 1210 254.5C1211.3 254.3 1212.6 254 1214 253.8C1215.3 253.5 1216.6 253.3 1218 253.1C1219.3 252.8 1220.6 252.6 1222 252.4C1223.3 252.2 1224.6 252.1 1226 251.9C1227.3 251.7 1228.6 251.6 1230 251.5C1231.3 251.4 1232.7 251.3 1234 251.2C1235.3 251.2 1236.7 251.1 1238 251.1C1239.3 251.1 1240.7 251.1 1242 251.2C1243.3 251.2 1244.7 251.3 1246 251.3C1247.3 251.4 1249.3 251.5 1250 251.6" fill="none" stroke="#ecd03a" stroke-width="1.1" stroke-linejoin="round"/>
<rect x="573.6" y="479.2" width="798.7" height="7.5" fill="#2b2f3a" stroke="#ffffff" stroke-width="1.6"/>
<path d="M339.3 77H1367.3" stroke="#ffffff" stroke-width="2.5"/>
<path d="M1097 95.6H1367.3" stroke="#ffffff" stroke-width="2.6"/>
<path d="M994 226.5H1367.3" stroke="#ffffff" stroke-width="2.6"/>
<path d="M1129 263.5H1367.3" stroke="#ffffff" stroke-width="2.3"/>
<path d="M1199.7 278.9H1367.3" stroke="#ffffff" stroke-width="2.0"/>
<path d="M605 353.7H1367.3" stroke="#ffffff" stroke-width="1.8"/>
<path d="M270 403.9H1367.3" stroke="#ffffff" stroke-width="2.3"/>
<path d="M821.4 454.4H1367.3" stroke="#ffffff" stroke-width="2.3"/>
<path d="M734.6 541H1367.3" stroke="#ffffff" stroke-width="2.0"/>
<path d="M848.4 553H1367.3" stroke="#ffffff" stroke-width="1.8"/>
<path d="M10.9 192.4V246.5" stroke="#26a69a" stroke-width="0.95" opacity="0.9"/>
<rect x="8.9" y="209.4" width="4.1" height="16.6" fill="#26a69a"/>
<path d="M16.3 202V258.5" stroke="#ef5350" stroke-width="0.95" opacity="0.9"/>
<rect x="14.3" y="209.8" width="4.1" height="35.3" fill="#ef5350"/>
<path d="M21.7 179.3V249.7" stroke="#26a69a" stroke-width="0.95" opacity="0.9"/>
<rect x="19.7" y="235" width="4.1" height="10.1" fill="#26a69a"/>
<path d="M27.1 179.8V243.4" stroke="#26a69a" stroke-width="0.95" opacity="0.9"/>
<rect x="25.1" y="230.8" width="4.1" height="4.2" fill="#26a69a"/>
<path d="M32.5 225.9V277.6" stroke="#ef5350" stroke-width="0.95" opacity="0.9"/>
<rect x="30.5" y="230.8" width="4.1" height="32.1" fill="#ef5350"/>
<path d="M38 246.9V270.2" stroke="#26a69a" stroke-width="0.95" opacity="0.9"/>
<rect x="35.9" y="260.6" width="4.1" height="2.3" fill="#26a69a"/>
<path d="M43.4 214V260.6" stroke="#26a69a" stroke-width="0.95" opacity="0.9"/>
<rect x="41.3" y="216.7" width="4.1" height="43.9" fill="#26a69a"/>
<path d="M48.8 212.3V249.7" stroke="#ef5350" stroke-width="0.95" opacity="0.9"/>
<rect x="46.7" y="217.8" width="4.1" height="17.2" fill="#ef5350"/>
<path d="M54.2 208.1V249.7" stroke="#26a69a" stroke-width="0.95" opacity="0.9"/>
<rect x="52.1" y="212.9" width="4.1" height="21.6" fill="#26a69a"/>
<path d="M59.6 193V243.4" stroke="#ef5350" stroke-width="0.95" opacity="0.9"/>
<rect x="57.5" y="212.9" width="4.1" height="19.9" fill="#ef5350"/>
<path d="M65 155.2V257.7" stroke="#26a69a" stroke-width="0.95" opacity="0.9"/>
<rect x="63" y="161.1" width="4.1" height="71.8" fill="#26a69a"/>
<path d="M70.4 152.7V205.6" stroke="#ef5350" stroke-width="0.95" opacity="0.9"/>
<rect x="68.4" y="161.1" width="4.1" height="23.1" fill="#ef5350"/>
<path d="M75.8 162.5V238.1" stroke="#ef5350" stroke-width="0.95" opacity="0.9"/>
<rect x="73.8" y="183.1" width="4.1" height="23.7" fill="#ef5350"/>
<path d="M81.2 202.4V256.6" stroke="#ef5350" stroke-width="0.95" opacity="0.9"/>
<rect x="79.2" y="206" width="4.1" height="38" fill="#ef5350"/>
<path d="M86.7 228V265" stroke="#ef5350" stroke-width="0.95" opacity="0.9"/>
<rect x="84.6" y="244" width="4.1" height="1.7" fill="#ef5350"/>
<path d="M92.1 236V281.6" stroke="#ef5350" stroke-width="0.95" opacity="0.9"/>
<rect x="90" y="245.1" width="4.1" height="21.8" fill="#ef5350"/>
<path d="M97.5 236.7V267.5" stroke="#26a69a" stroke-width="0.95" opacity="0.9"/>
<rect x="95.4" y="257.7" width="4.1" height="9.9" fill="#26a69a"/>
<path d="M102.9 203.9V259.1" stroke="#26a69a" stroke-width="0.95" opacity="0.9"/>
<rect x="100.8" y="228" width="4.1" height="29.6" fill="#26a69a"/>
<path d="M108.3 149.5V232.2" stroke="#26a69a" stroke-width="0.95" opacity="0.9"/>
<rect x="106.2" y="159.8" width="4.1" height="69.9" fill="#26a69a"/>
<path d="M113.7 143V224.9" stroke="#ef5350" stroke-width="0.95" opacity="0.9"/>
<rect x="111.7" y="160.9" width="4.1" height="54.8" fill="#ef5350"/>
<path d="M119.1 206.8V235.4" stroke="#ef5350" stroke-width="0.95" opacity="0.9"/>
<rect x="117.1" y="215.2" width="4.1" height="5.7" fill="#ef5350"/>
<path d="M124.5 186.1V223" stroke="#26a69a" stroke-width="0.95" opacity="0.9"/>
<rect x="122.5" y="202" width="4.1" height="18.9" fill="#26a69a"/>
<path d="M129.9 194V228.7" stroke="#ef5350" stroke-width="0.95" opacity="0.9"/>
<rect x="127.9" y="202" width="4.1" height="10.3" fill="#ef5350"/>
<path d="M135.4 168.2V223.8" stroke="#26a69a" stroke-width="0.95" opacity="0.9"/>
<rect x="133.3" y="190.9" width="4.1" height="19.9" fill="#26a69a"/>
<path d="M140.8 188.2V237.7" stroke="#ef5350" stroke-width="0.95" opacity="0.9"/>
<rect x="138.7" y="190.9" width="4.1" height="38.4" fill="#ef5350"/>
<path d="M146.2 220.9V246.9" stroke="#26a69a" stroke-width="0.95" opacity="0.9"/>
<rect x="144.1" y="226.2" width="4.1" height="3.1" fill="#26a69a"/>
<path d="M151.6 217.1V284.8" stroke="#ef5350" stroke-width="0.95" opacity="0.9"/>
<rect x="149.5" y="226.2" width="4.1" height="52.7" fill="#ef5350"/>
<path d="M157 267.3V303" stroke="#ef5350" stroke-width="0.95" opacity="0.9"/>
<rect x="154.9" y="276.4" width="4.1" height="19.7" fill="#ef5350"/>
<path d="M162.4 269.4V299.9" stroke="#26a69a" stroke-width="0.95" opacity="0.9"/>
<rect x="160.4" y="276.4" width="4.1" height="18.3" fill="#26a69a"/>
<path d="M167.8 264.6V316.3" stroke="#ef5350" stroke-width="0.95" opacity="0.9"/>
<rect x="165.8" y="276.4" width="4.1" height="12.4" fill="#ef5350"/>
<path d="M173.2 245.1V291.9" stroke="#26a69a" stroke-width="0.95" opacity="0.9"/>
<rect x="171.2" y="275.7" width="4.1" height="16.2" fill="#26a69a"/>
<path d="M178.6 209.2V280.5" stroke="#26a69a" stroke-width="0.95" opacity="0.9"/>
<rect x="176.6" y="249.7" width="4.1" height="26.7" fill="#26a69a"/>
<path d="M184.1 218.8V258.5" stroke="#26a69a" stroke-width="0.95" opacity="0.9"/>
<rect x="182" y="243.4" width="4.1" height="6.3" fill="#26a69a"/>
<path d="M189.5 216.7V265.4" stroke="#26a69a" stroke-width="0.95" opacity="0.9"/>
<rect x="187.4" y="227" width="4.1" height="16.4" fill="#26a69a"/>
<path d="M194.9 179.3V227.8" stroke="#26a69a" stroke-width="0.95" opacity="0.9"/>
<rect x="192.8" y="185.8" width="4.1" height="42" fill="#26a69a"/>
<path d="M200.3 145.1V191.9" stroke="#26a69a" stroke-width="0.95" opacity="0.9"/>
<rect x="198.2" y="161.9" width="4.1" height="24.8" fill="#26a69a"/>
<path d="M205.7 157.3V186.7" stroke="#ef5350" stroke-width="0.95" opacity="0.9"/>
<rect x="203.6" y="161.9" width="4.1" height="16.4" fill="#ef5350"/>
<path d="M211.1 143.6V188.2" stroke="#26a69a" stroke-width="0.95" opacity="0.9"/>
<rect x="209.1" y="165.3" width="4.1" height="15.5" fill="#26a69a"/>
<path d="M216.5 150.4V229.3" stroke="#ef5350" stroke-width="0.95" opacity="0.9"/>
<rect x="214.5" y="165.3" width="4.1" height="58.6" fill="#ef5350"/>
<path d="M221.9 216.7V268.6" stroke="#ef5350" stroke-width="0.95" opacity="0.9"/>
<rect x="219.9" y="220.7" width="4.1" height="46.8" fill="#ef5350"/>
<path d="M227.3 215V265" stroke="#26a69a" stroke-width="0.95" opacity="0.9"/>
<rect x="225.3" y="223" width="4.1" height="39.3" fill="#26a69a"/>
<path d="M232.8 214.4V257.4" stroke="#ef5350" stroke-width="0.95" opacity="0.9"/>
<rect x="230.7" y="222.4" width="4.1" height="32.5" fill="#ef5350"/>
<path d="M238.2 242.3V274.9" stroke="#26a69a" stroke-width="0.95" opacity="0.9"/>
<rect x="236.1" y="251.1" width="4.1" height="3.8" fill="#26a69a"/>
<path d="M243.6 245.1V293" stroke="#ef5350" stroke-width="0.95" opacity="0.9"/>
<rect x="241.5" y="250.7" width="4.1" height="30.3" fill="#ef5350"/>
<path d="M249 240.2V283.5" stroke="#26a69a" stroke-width="0.95" opacity="0.9"/>
<rect x="246.9" y="259.1" width="4.1" height="24.4" fill="#26a69a"/>
<path d="M254.4 245.9V276.3" stroke="#ef5350" stroke-width="0.95" opacity="0.9"/>
<rect x="252.3" y="259.1" width="4.1" height="1" fill="#ef5350"/>
<path d="M259.8 250.1V290.4" stroke="#ef5350" stroke-width="0.95" opacity="0.9"/>
<rect x="257.8" y="260.2" width="4.1" height="29.2" fill="#ef5350"/>
<path d="M265.2 285.2V349.9" stroke="#ef5350" stroke-width="0.95" opacity="0.9"/>
<rect x="263.2" y="289" width="4.1" height="49.1" fill="#ef5350"/>
<path d="M270.6 337.7V374" stroke="#ef5350" stroke-width="0.95" opacity="0.9"/>
<rect x="268.6" y="338.7" width="4.1" height="31.1" fill="#ef5350"/>
<path d="M276 338.7V379.7" stroke="#26a69a" stroke-width="0.95" opacity="0.9"/>
<rect x="274" y="359.7" width="4.1" height="10.1" fill="#26a69a"/>
<path d="M281.4 331.4V359.7" stroke="#26a69a" stroke-width="0.95" opacity="0.9"/>
<rect x="279.4" y="345.7" width="4.1" height="14.1" fill="#26a69a"/>
<path d="M286.9 327.2V370.2" stroke="#ef5350" stroke-width="0.95" opacity="0.9"/>
<rect x="284.8" y="345" width="4.1" height="15.7" fill="#ef5350"/>
<path d="M292.3 342.9V404.4" stroke="#ef5350" stroke-width="0.95" opacity="0.9"/>
<rect x="290.2" y="360.8" width="4.1" height="12.2" fill="#ef5350"/>
<path d="M297.7 310.4V384.5" stroke="#26a69a" stroke-width="0.95" opacity="0.9"/>
<rect x="295.6" y="321.5" width="4.1" height="50.4" fill="#26a69a"/>
<path d="M303.1 267.8V319.8" stroke="#26a69a" stroke-width="0.95" opacity="0.9"/>
<rect x="301" y="293" width="4.1" height="26.9" fill="#26a69a"/>
<path d="M308.5 267.8V311.9" stroke="#26a69a" stroke-width="0.95" opacity="0.9"/>
<rect x="306.5" y="283.5" width="4.1" height="5.2" fill="#26a69a"/>
<path d="M313.9 231.9V288.6" stroke="#26a69a" stroke-width="0.95" opacity="0.9"/>
<rect x="311.9" y="245.1" width="4.1" height="39.9" fill="#26a69a"/>
<path d="M319.3 208.8V264.7" stroke="#ef5350" stroke-width="0.95" opacity="0.9"/>
<rect x="317.3" y="245.1" width="4.1" height="11.5" fill="#ef5350"/>
<path d="M324.7 208V256.7" stroke="#26a69a" stroke-width="0.95" opacity="0.9"/>
<rect x="322.7" y="212.2" width="4.1" height="44.5" fill="#26a69a"/>
<path d="M330.1 183.9V226.2" stroke="#26a69a" stroke-width="0.95" opacity="0.9"/>
<rect x="328.1" y="192.3" width="4.1" height="20.3" fill="#26a69a"/>
<path d="M335.6 167.1V198.6" stroke="#26a69a" stroke-width="0.95" opacity="0.9"/>
<rect x="333.5" y="183.9" width="4.1" height="8.8" fill="#26a69a"/>
<path d="M341 142.9V192.3" stroke="#26a69a" stroke-width="0.95" opacity="0.9"/>
<rect x="338.9" y="174" width="4.1" height="9.9" fill="#26a69a"/>
<path d="M346.4 120.9V179.7" stroke="#26a69a" stroke-width="0.95" opacity="0.9"/>
<rect x="344.3" y="153" width="4.1" height="21" fill="#26a69a"/>
<path d="M351.8 79.9V172.3" stroke="#26a69a" stroke-width="0.95" opacity="0.9"/>
<rect x="349.7" y="87.9" width="4.1" height="64" fill="#26a69a"/>
<path d="M357.2 74.7V106.6" stroke="#ef5350" stroke-width="0.95" opacity="0.9"/>
<rect x="355.2" y="88.8" width="4.1" height="7.3" fill="#ef5350"/>
<path d="M362.6 86.9V123" stroke="#ef5350" stroke-width="0.95" opacity="0.9"/>
<rect x="360.6" y="91.9" width="4.1" height="21" fill="#ef5350"/>
<path d="M368 107.2V181.8" stroke="#ef5350" stroke-width="0.95" opacity="0.9"/>
<rect x="366" y="112.9" width="4.1" height="48.3" fill="#ef5350"/>
<path d="M373.4 144V190.6" stroke="#26a69a" stroke-width="0.95" opacity="0.9"/>
<rect x="371.4" y="151.3" width="4.1" height="8.4" fill="#26a69a"/>
<path d="M378.8 142.9V188.1" stroke="#ef5350" stroke-width="0.95" opacity="0.9"/>
<rect x="376.8" y="151.7" width="4.1" height="29.4" fill="#ef5350"/>
<path d="M384.3 171.3V248.7" stroke="#ef5350" stroke-width="0.95" opacity="0.9"/>
<rect x="382.2" y="181.1" width="4.1" height="58.1" fill="#ef5350"/>
<path d="M389.7 226.2V244.7" stroke="#ef5350" stroke-width="0.95" opacity="0.9"/>
<rect x="387.6" y="238.8" width="4.1" height="3.8" fill="#ef5350"/>
<path d="M395.1 206.3V243" stroke="#26a69a" stroke-width="0.95" opacity="0.9"/>
<rect x="393" y="232.1" width="4.1" height="10.9" fill="#26a69a"/>
<path d="M400.5 229.4V298.7" stroke="#ef5350" stroke-width="0.95" opacity="0.9"/>
<rect x="398.4" y="234" width="4.1" height="62.1" fill="#ef5350"/>
<path d="M405.9 266.1V299.7" stroke="#26a69a" stroke-width="0.95" opacity="0.9"/>
<rect x="403.9" y="286.7" width="4.1" height="10.9" fill="#26a69a"/>
<path d="M411.3 244.1V294.1" stroke="#26a69a" stroke-width="0.95" opacity="0.9"/>
<rect x="409.3" y="250.8" width="4.1" height="35.3" fill="#26a69a"/>
<path d="M416.7 228.3V269.3" stroke="#26a69a" stroke-width="0.95" opacity="0.9"/>
<rect x="414.7" y="243.7" width="4.1" height="4.2" fill="#26a69a"/>
<path d="M422.1 217.2V264.7" stroke="#26a69a" stroke-width="0.95" opacity="0.9"/>
<rect x="420.1" y="229.4" width="4.1" height="15.3" fill="#26a69a"/>
<path d="M427.5 222V256.7" stroke="#ef5350" stroke-width="0.95" opacity="0.9"/>
<rect x="425.5" y="229" width="4.1" height="27.7" fill="#ef5350"/>
<path d="M433 231.5V297" stroke="#ef5350" stroke-width="0.95" opacity="0.9"/>
<rect x="430.9" y="256.1" width="4.1" height="23.1" fill="#ef5350"/>
<path d="M438.4 221V281.5" stroke="#26a69a" stroke-width="0.95" opacity="0.9"/>
<rect x="436.3" y="231.1" width="4.1" height="48.1" fill="#26a69a"/>
<path d="M443.8 224.1V277.7" stroke="#ef5350" stroke-width="0.95" opacity="0.9"/>
<rect x="441.7" y="231.1" width="4.1" height="8.8" fill="#ef5350"/>
<path d="M449.2 225.2V258.2" stroke="#26a69a" stroke-width="0.95" opacity="0.9"/>
<rect x="447.1" y="233" width="4.1" height="8" fill="#26a69a"/>
<path d="M454.6 149.9V233.6" stroke="#26a69a" stroke-width="0.95" opacity="0.9"/>
<rect x="452.6" y="157" width="4.1" height="76.6" fill="#26a69a"/>
<path d="M460 78.9V158.3" stroke="#26a69a" stroke-width="0.95" opacity="0.9"/>
<rect x="458" y="85.8" width="4.1" height="72.4" fill="#26a69a"/>
<path d="M465.4 78.9V124.7" stroke="#ef5350" stroke-width="0.95" opacity="0.9"/>
<rect x="463.4" y="84.6" width="4.1" height="36.3" fill="#ef5350"/>
<path d="M470.8 113.1V156.6" stroke="#ef5350" stroke-width="0.95" opacity="0.9"/>
<rect x="468.8" y="119.8" width="4.1" height="17.8" fill="#ef5350"/>
<path d="M476.2 119.8V155.5" stroke="#ef5350" stroke-width="0.95" opacity="0.9"/>
<rect x="474.2" y="137.7" width="4.1" height="5.2" fill="#ef5350"/>
<path d="M481.7 132.4V183.9" stroke="#ef5350" stroke-width="0.95" opacity="0.9"/>
<rect x="479.6" y="142.9" width="4.1" height="25.8" fill="#ef5350"/>
<path d="M487.1 113.1V172.3" stroke="#26a69a" stroke-width="0.95" opacity="0.9"/>
<rect x="485" y="163.9" width="4.1" height="4.8" fill="#26a69a"/>
<path d="M492.5 157V204.9" stroke="#ef5350" stroke-width="0.95" opacity="0.9"/>
<rect x="490.4" y="163.9" width="4.1" height="36.7" fill="#ef5350"/>
<path d="M497.9 179.7V207" stroke="#26a69a" stroke-width="0.95" opacity="0.9"/>
<rect x="495.8" y="192.7" width="4.1" height="9" fill="#26a69a"/>
<path d="M503.3 151.3V202.8" stroke="#26a69a" stroke-width="0.95" opacity="0.9"/>
<rect x="501.3" y="157" width="4.1" height="35.7" fill="#26a69a"/>
<path d="M508.7 152.4V199.6" stroke="#ef5350" stroke-width="0.95" opacity="0.9"/>
<rect x="506.7" y="156.6" width="4.1" height="23.1" fill="#ef5350"/>
<path d="M514.1 132V222" stroke="#ef5350" stroke-width="0.95" opacity="0.9"/>
<rect x="512.1" y="179" width="4.1" height="37.8" fill="#ef5350"/>
<path d="M519.5 211.5V279.4" stroke="#ef5350" stroke-width="0.95" opacity="0.9"/>
<rect x="517.5" y="215.7" width="4.1" height="47.7" fill="#ef5350"/>
<path d="M524.9 200V259.8" stroke="#26a69a" stroke-width="0.95" opacity="0.9"/>
<rect x="522.9" y="208.8" width="4.1" height="51" fill="#26a69a"/>
<path d="M530.4 203.8V294.5" stroke="#ef5350" stroke-width="0.95" opacity="0.9"/>
<rect x="528.3" y="208.8" width="4.1" height="74.7" fill="#ef5350"/>
<path d="M535.8 273.9V352.2" stroke="#ef5350" stroke-width="0.95" opacity="0.9"/>
<rect x="533.7" y="280.8" width="4.1" height="67.2" fill="#ef5350"/>
<path d="M541.2 320.3V354.9" stroke="#26a69a" stroke-width="0.95" opacity="0.9"/>
<rect x="539.1" y="335" width="4.1" height="10.9" fill="#26a69a"/>
<path d="M546.6 289.2V337.5" stroke="#26a69a" stroke-width="0.95" opacity="0.9"/>
<rect x="544.5" y="321.8" width="4.1" height="14.3" fill="#26a69a"/>
<path d="M552 302.2V330.2" stroke="#26a69a" stroke-width="0.95" opacity="0.9"/>
<rect x="549.9" y="318" width="4.1" height="2.7" fill="#26a69a"/>
<path d="M557.4 314.4V374.7" stroke="#ef5350" stroke-width="0.95" opacity="0.9"/>
<rect x="555.4" y="319" width="4.1" height="24" fill="#ef5350"/>
<path d="M562.8 319V357.3" stroke="#ef5350" stroke-width="0.95" opacity="0.9"/>
<rect x="560.8" y="342" width="4.1" height="9.7" fill="#ef5350"/>
<path d="M568.2 284V361.9" stroke="#ef5350" stroke-width="0.95" opacity="0.9"/>
<rect x="566.2" y="351" width="4.1" height="9.9" fill="#ef5350"/>
<path d="M573.6 347.2V382.9" stroke="#ef5350" stroke-width="0.95" opacity="0.9"/>
<rect x="571.6" y="360.9" width="4.1" height="14.3" fill="#ef5350"/>
<path d="M579.1 369.9V407.7" stroke="#ef5350" stroke-width="0.95" opacity="0.9"/>
<rect x="577" y="374.1" width="4.1" height="10.5" fill="#ef5350"/>
<path d="M584.5 356.2V409.8" stroke="#ef5350" stroke-width="0.95" opacity="0.9"/>
<rect x="582.4" y="384.2" width="4.1" height="24.6" fill="#ef5350"/>
<path d="M589.9 388.4V438.1" stroke="#ef5350" stroke-width="0.95" opacity="0.9"/>
<rect x="587.8" y="408.1" width="4.1" height="24.8" fill="#ef5350"/>
<path d="M595.3 410.8V477" stroke="#ef5350" stroke-width="0.95" opacity="0.9"/>
<rect x="593.2" y="432.5" width="4.1" height="17.6" fill="#ef5350"/>
<path d="M600.7 428V466.9" stroke="#26a69a" stroke-width="0.95" opacity="0.9"/>
<rect x="598.6" y="448.2" width="4.1" height="2.5" fill="#26a69a"/>
<path d="M606.1 433.9V459.8" stroke="#26a69a" stroke-width="0.95" opacity="0.9"/>
<rect x="604.1" y="439.8" width="4.1" height="8.4" fill="#26a69a"/>
<path d="M611.5 405.6V446.9" stroke="#26a69a" stroke-width="0.95" opacity="0.9"/>
<rect x="609.5" y="432.9" width="4.1" height="8" fill="#26a69a"/>
<path d="M616.9 385.6V440.9" stroke="#26a69a" stroke-width="0.95" opacity="0.9"/>
<rect x="614.9" y="389.8" width="4.1" height="43" fill="#26a69a"/>
<path d="M622.3 381.9V439.8" stroke="#ef5350" stroke-width="0.95" opacity="0.9"/>
<rect x="620.3" y="389.8" width="4.1" height="46.2" fill="#ef5350"/>
<path d="M627.8 418.2V465.4" stroke="#ef5350" stroke-width="0.95" opacity="0.9"/>
<rect x="625.7" y="436" width="4.1" height="13.6" fill="#ef5350"/>
<path d="M633.2 419.6V450.7" stroke="#26a69a" stroke-width="0.95" opacity="0.9"/>
<rect x="631.1" y="431.2" width="4.1" height="19.5" fill="#26a69a"/>
<path d="M638.6 382.9V448.6" stroke="#26a69a" stroke-width="0.95" opacity="0.9"/>
<rect x="636.5" y="390.3" width="4.1" height="39.5" fill="#26a69a"/>
<path d="M644 356.2V411.5" stroke="#ef5350" stroke-width="0.95" opacity="0.9"/>
<rect x="641.9" y="390.3" width="4.1" height="4.2" fill="#ef5350"/>
<path d="M649.4 367.2V402.4" stroke="#26a69a" stroke-width="0.95" opacity="0.9"/>
<rect x="647.3" y="385.6" width="4.1" height="9" fill="#26a69a"/>
<path d="M654.8 356.2V419.9" stroke="#ef5350" stroke-width="0.95" opacity="0.9"/>
<rect x="652.8" y="385.6" width="4.1" height="26.2" fill="#ef5350"/>
<path d="M660.2 388.4V414.6" stroke="#26a69a" stroke-width="0.95" opacity="0.9"/>
<rect x="658.2" y="403.1" width="4.1" height="8.8" fill="#26a69a"/>
<path d="M665.6 400.3V482.2" stroke="#ef5350" stroke-width="0.95" opacity="0.9"/>
<rect x="663.6" y="403.1" width="4.1" height="65.9" fill="#ef5350"/>
<path d="M671 447.2V482.2" stroke="#26a69a" stroke-width="0.95" opacity="0.9"/>
<rect x="669" y="465" width="4.1" height="4" fill="#26a69a"/>
<path d="M676.5 453.9V479.5" stroke="#ef5350" stroke-width="0.95" opacity="0.9"/>
<rect x="674.4" y="465" width="4.1" height="4" fill="#ef5350"/>
<path d="M681.9 438.1V475.3" stroke="#ef5350" stroke-width="0.95" opacity="0.9"/>
<rect x="679.8" y="467.7" width="4.1" height="1" fill="#ef5350"/>
<path d="M687.3 412.3V469.6" stroke="#26a69a" stroke-width="0.95" opacity="0.9"/>
<rect x="685.2" y="425.9" width="4.1" height="43.7" fill="#26a69a"/>
<path d="M692.7 419.2V443" stroke="#ef5350" stroke-width="0.95" opacity="0.9"/>
<rect x="690.6" y="425.9" width="4.1" height="6.3" fill="#ef5350"/>
<path d="M698.1 431.8V465.4" stroke="#ef5350" stroke-width="0.95" opacity="0.9"/>
<rect x="696" y="431.8" width="4.1" height="4.2" fill="#ef5350"/>
<path d="M703.5 403.9V436" stroke="#26a69a" stroke-width="0.95" opacity="0.9"/>
<rect x="701.5" y="419.9" width="4.1" height="16.2" fill="#26a69a"/>
<path d="M708.9 393V430.8" stroke="#ef5350" stroke-width="0.95" opacity="0.9"/>
<rect x="706.9" y="419.9" width="4.1" height="8.8" fill="#ef5350"/>
<path d="M714.3 411.9V437.1" stroke="#26a69a" stroke-width="0.95" opacity="0.9"/>
<rect x="712.3" y="424.1" width="4.1" height="1.9" fill="#26a69a"/>
<path d="M719.7 392.6V428.3" stroke="#26a69a" stroke-width="0.95" opacity="0.9"/>
<rect x="717.7" y="408.3" width="4.1" height="14.5" fill="#26a69a"/>
<path d="M725.2 364.6V418.2" stroke="#ef5350" stroke-width="0.95" opacity="0.9"/>
<rect x="723.1" y="408.3" width="4.1" height="5.7" fill="#ef5350"/>
<path d="M730.6 409.4V461.2" stroke="#ef5350" stroke-width="0.95" opacity="0.9"/>
<rect x="728.5" y="414" width="4.1" height="25.6" fill="#ef5350"/>
<path d="M736 399.7V446.9" stroke="#26a69a" stroke-width="0.95" opacity="0.9"/>
<rect x="733.9" y="420.9" width="4.1" height="18.7" fill="#26a69a"/>
<path d="M741.4 414V445.5" stroke="#ef5350" stroke-width="0.95" opacity="0.9"/>
<rect x="739.3" y="418.6" width="4.1" height="14.3" fill="#ef5350"/>
<path d="M746.8 425.5V459.8" stroke="#ef5350" stroke-width="0.95" opacity="0.9"/>
<rect x="744.7" y="432.5" width="4.1" height="21.4" fill="#ef5350"/>
<path d="M752.2 449.7V503.6" stroke="#ef5350" stroke-width="0.95" opacity="0.9"/>
<rect x="750.2" y="452.8" width="4.1" height="35.9" fill="#ef5350"/>
<path d="M757.6 425.5V492.5" stroke="#26a69a" stroke-width="0.95" opacity="0.9"/>
<rect x="755.6" y="430.8" width="4.1" height="57.9" fill="#26a69a"/>
<path d="M763 372V433.9" stroke="#26a69a" stroke-width="0.95" opacity="0.9"/>
<rect x="761" y="423.8" width="4.1" height="5.9" fill="#26a69a"/>
<path d="M768.4 415V479.1" stroke="#ef5350" stroke-width="0.95" opacity="0.9"/>
<rect x="766.4" y="423.8" width="4.1" height="55.2" fill="#ef5350"/>
<path d="M773.9 476.1V539.7" stroke="#ef5350" stroke-width="0.95" opacity="0.9"/>
<rect x="771.8" y="479.3" width="4.1" height="50" fill="#ef5350"/>
<path d="M779.3 495V538.7" stroke="#26a69a" stroke-width="0.95" opacity="0.9"/>
<rect x="777.2" y="512" width="4.1" height="15.7" fill="#26a69a"/>
<path d="M784.7 466.9V513.5" stroke="#26a69a" stroke-width="0.95" opacity="0.9"/>
<rect x="782.6" y="477.2" width="4.1" height="36.3" fill="#26a69a"/>
<path d="M790.1 449.4V519.2" stroke="#26a69a" stroke-width="0.95" opacity="0.9"/>
<rect x="788" y="464.1" width="4.1" height="12.2" fill="#26a69a"/>
<path d="M795.5 438.1V495" stroke="#26a69a" stroke-width="0.95" opacity="0.9"/>
<rect x="793.4" y="444.8" width="4.1" height="19.5" fill="#26a69a"/>
<path d="M800.9 424.5V454.9" stroke="#26a69a" stroke-width="0.95" opacity="0.9"/>
<rect x="798.9" y="428.3" width="4.1" height="15.7" fill="#26a69a"/>
<path d="M806.3 417.1V439.8" stroke="#ef5350" stroke-width="0.95" opacity="0.9"/>
<rect x="804.3" y="428.3" width="4.1" height="11.5" fill="#ef5350"/>
<path d="M811.7 425.9V522.9" stroke="#ef5350" stroke-width="0.95" opacity="0.9"/>
<rect x="809.7" y="439.2" width="4.1" height="78.9" fill="#ef5350"/>
<path d="M817.1 501.9V539.1" stroke="#ef5350" stroke-width="0.95" opacity="0.9"/>
<rect x="815.1" y="518.1" width="4.1" height="15.3" fill="#ef5350"/>
<path d="M822.5 493.5V535.5" stroke="#26a69a" stroke-width="0.95" opacity="0.9"/>
<rect x="820.5" y="499.8" width="4.1" height="33.6" fill="#26a69a"/>
<path d="M828 466.2V503" stroke="#26a69a" stroke-width="0.95" opacity="0.9"/>
<rect x="825.9" y="477.2" width="4.1" height="22.7" fill="#26a69a"/>
<path d="M833.4 455.7V506.1" stroke="#ef5350" stroke-width="0.95" opacity="0.9"/>
<rect x="831.3" y="477.2" width="4.1" height="24.8" fill="#ef5350"/>
<path d="M838.8 484.1V532" stroke="#ef5350" stroke-width="0.95" opacity="0.9"/>
<rect x="836.7" y="500.9" width="4.1" height="8.4" fill="#ef5350"/>
<path d="M844.2 505.5V530.7" stroke="#ef5350" stroke-width="0.95" opacity="0.9"/>
<rect x="842.1" y="507.6" width="4.1" height="14.3" fill="#ef5350"/>
<path d="M849.6 489.8V537" stroke="#26a69a" stroke-width="0.95" opacity="0.9"/>
<rect x="847.6" y="499.8" width="4.1" height="22" fill="#26a69a"/>
<path d="M855 467.3V501.9" stroke="#26a69a" stroke-width="0.95" opacity="0.9"/>
<rect x="853" y="483.7" width="4.1" height="17.2" fill="#26a69a"/>
<path d="M860.4 450.5V522.9" stroke="#ef5350" stroke-width="0.95" opacity="0.9"/>
<rect x="858.4" y="484.7" width="4.1" height="38.2" fill="#ef5350"/>
<path d="M865.8 505.1V551.9" stroke="#26a69a" stroke-width="0.95" opacity="0.9"/>
<rect x="863.8" y="512" width="4.1" height="11.5" fill="#26a69a"/>
<path d="M871.2 475.7V513.5" stroke="#26a69a" stroke-width="0.95" opacity="0.9"/>
<rect x="869.2" y="504" width="4.1" height="9.4" fill="#26a69a"/>
<path d="M876.7 463.1V504.7" stroke="#26a69a" stroke-width="0.95" opacity="0.9"/>
<rect x="874.6" y="472.5" width="4.1" height="32.1" fill="#26a69a"/>
<path d="M882.1 470.9V516.6" stroke="#ef5350" stroke-width="0.95" opacity="0.9"/>
<rect x="880" y="472.5" width="4.1" height="28.3" fill="#ef5350"/>
<path d="M887.5 451.1V513.5" stroke="#26a69a" stroke-width="0.95" opacity="0.9"/>
<rect x="885.4" y="451.1" width="4.1" height="49.8" fill="#26a69a"/>
<path d="M892.9 407.1V452.2" stroke="#26a69a" stroke-width="0.95" opacity="0.9"/>
<rect x="890.8" y="424.9" width="4.1" height="27.3" fill="#26a69a"/>
<path d="M898.3 359.4V434.4" stroke="#26a69a" stroke-width="0.95" opacity="0.9"/>
<rect x="896.3" y="366.8" width="4.1" height="58.2" fill="#26a69a"/>
<path d="M903.7 354.6V384" stroke="#ef5350" stroke-width="0.95" opacity="0.9"/>
<rect x="901.7" y="363" width="4.1" height="19.9" fill="#ef5350"/>
<path d="M909.1 371.4V447" stroke="#ef5350" stroke-width="0.95" opacity="0.9"/>
<rect x="907.1" y="377.7" width="4.1" height="45.1" fill="#ef5350"/>
<path d="M914.5 411.9V451.2" stroke="#ef5350" stroke-width="0.95" opacity="0.9"/>
<rect x="912.5" y="421.8" width="4.1" height="29" fill="#ef5350"/>
<path d="M919.9 427.7V478.4" stroke="#ef5350" stroke-width="0.95" opacity="0.9"/>
<rect x="917.9" y="449.9" width="4.1" height="28.6" fill="#ef5350"/>
<path d="M925.4 473.6V498.4" stroke="#ef5350" stroke-width="0.95" opacity="0.9"/>
<rect x="923.3" y="476.7" width="4.1" height="6.9" fill="#ef5350"/>
<path d="M930.8 457.2V487.9" stroke="#26a69a" stroke-width="0.95" opacity="0.9"/>
<rect x="928.7" y="469" width="4.1" height="14.7" fill="#26a69a"/>
<path d="M936.2 362.6V480.5" stroke="#26a69a" stroke-width="0.95" opacity="0.9"/>
<rect x="934.1" y="369.9" width="4.1" height="98.8" fill="#26a69a"/>
<path d="M941.6 339.9V385.7" stroke="#26a69a" stroke-width="0.95" opacity="0.9"/>
<rect x="939.5" y="366.8" width="4.1" height="2.1" fill="#26a69a"/>
<path d="M947 358.8V402.9" stroke="#ef5350" stroke-width="0.95" opacity="0.9"/>
<rect x="945" y="366.8" width="4.1" height="31.9" fill="#ef5350"/>
<path d="M952.4 359.8V409.2" stroke="#26a69a" stroke-width="0.95" opacity="0.9"/>
<rect x="950.4" y="362.6" width="4.1" height="36.1" fill="#26a69a"/>
<path d="M957.8 322.7V371.8" stroke="#26a69a" stroke-width="0.95" opacity="0.9"/>
<rect x="955.8" y="331.5" width="4.1" height="31.5" fill="#26a69a"/>
<path d="M963.2 305.2V339.5" stroke="#ef5350" stroke-width="0.95" opacity="0.9"/>
<rect x="961.2" y="331.1" width="4.1" height="1" fill="#ef5350"/>
<path d="M968.6 319.9V355.6" stroke="#ef5350" stroke-width="0.95" opacity="0.9"/>
<rect x="966.6" y="329.8" width="4.1" height="14.3" fill="#ef5350"/>
<path d="M974.1 315.7V343" stroke="#26a69a" stroke-width="0.95" opacity="0.9"/>
<rect x="972" y="329.8" width="4.1" height="13.2" fill="#26a69a"/>
<path d="M979.5 303.1V334.6" stroke="#26a69a" stroke-width="0.95" opacity="0.9"/>
<rect x="977.4" y="310.9" width="4.1" height="19.9" fill="#26a69a"/>
<path d="M984.9 286V321.7" stroke="#26a69a" stroke-width="0.95" opacity="0.9"/>
<rect x="982.8" y="291.9" width="4.1" height="18.9" fill="#26a69a"/>
<path d="M990.3 247.2V298.6" stroke="#26a69a" stroke-width="0.95" opacity="0.9"/>
<rect x="988.2" y="259.8" width="4.1" height="32.1" fill="#26a69a"/>
<path d="M995.7 238.8V291.3" stroke="#ef5350" stroke-width="0.95" opacity="0.9"/>
<rect x="993.7" y="259.8" width="4.1" height="25.8" fill="#ef5350"/>
<path d="M1001.1 258.7V318.6" stroke="#ef5350" stroke-width="0.95" opacity="0.9"/>
<rect x="999.1" y="285" width="4.1" height="9.4" fill="#ef5350"/>
<path d="M1006.5 238.8V296.5" stroke="#26a69a" stroke-width="0.95" opacity="0.9"/>
<rect x="1004.5" y="240.9" width="4.1" height="53.5" fill="#26a69a"/>
<path d="M1011.9 228.3V292.3" stroke="#ef5350" stroke-width="0.95" opacity="0.9"/>
<rect x="1009.9" y="243" width="4.1" height="38.8" fill="#ef5350"/>
<path d="M1017.3 280.4V338.8" stroke="#ef5350" stroke-width="0.95" opacity="0.9"/>
<rect x="1015.3" y="282.9" width="4.1" height="51.8" fill="#ef5350"/>
<path d="M1022.8 298.6V337.8" stroke="#ef5350" stroke-width="0.95" opacity="0.9"/>
<rect x="1020.7" y="333.6" width="4.1" height="4.2" fill="#ef5350"/>
<path d="M1028.2 281.4V352.5" stroke="#26a69a" stroke-width="0.95" opacity="0.9"/>
<rect x="1026.1" y="295.9" width="4.1" height="42.3" fill="#26a69a"/>
<path d="M1033.6 280.8V327" stroke="#ef5350" stroke-width="0.95" opacity="0.9"/>
<rect x="1031.5" y="298" width="4.1" height="17.4" fill="#ef5350"/>
<path d="M1039 309.1V335.3" stroke="#ef5350" stroke-width="0.95" opacity="0.9"/>
<rect x="1036.9" y="314.4" width="4.1" height="6.3" fill="#ef5350"/>
<path d="M1044.4 287.5V342" stroke="#ef5350" stroke-width="0.95" opacity="0.9"/>
<rect x="1042.4" y="324.9" width="4.1" height="4.2" fill="#ef5350"/>
<path d="M1049.8 241.9V328" stroke="#26a69a" stroke-width="0.95" opacity="0.9"/>
<rect x="1047.8" y="252" width="4.1" height="76" fill="#26a69a"/>
<path d="M1055.2 199.9V253.5" stroke="#26a69a" stroke-width="0.95" opacity="0.9"/>
<rect x="1053.2" y="225.1" width="4.1" height="26.9" fill="#26a69a"/>
<path d="M1060.6 199.9V248.9" stroke="#26a69a" stroke-width="0.95" opacity="0.9"/>
<rect x="1058.6" y="221.4" width="4.1" height="3.8" fill="#26a69a"/>
<path d="M1066 195.1V228.3" stroke="#26a69a" stroke-width="0.95" opacity="0.9"/>
<rect x="1064" y="218.2" width="4.1" height="6.9" fill="#26a69a"/>
<path d="M1071.5 165.5V220.7" stroke="#26a69a" stroke-width="0.95" opacity="0.9"/>
<rect x="1069.4" y="176" width="4.1" height="40.9" fill="#26a69a"/>
<path d="M1076.9 162.4V203.7" stroke="#ef5350" stroke-width="0.95" opacity="0.9"/>
<rect x="1074.8" y="176" width="4.1" height="25.2" fill="#ef5350"/>
<path d="M1082.3 144.5V201.2" stroke="#26a69a" stroke-width="0.95" opacity="0.9"/>
<rect x="1080.2" y="148.1" width="4.1" height="53.1" fill="#26a69a"/>
<path d="M1087.7 128.8V167" stroke="#ef5350" stroke-width="0.95" opacity="0.9"/>
<rect x="1085.6" y="148.1" width="4.1" height="1.7" fill="#ef5350"/>
<path d="M1093.1 143.5V164.1" stroke="#26a69a" stroke-width="0.95" opacity="0.9"/>
<rect x="1091" y="146" width="4.1" height="3.4" fill="#26a69a"/>
<path d="M1098.5 128.4V152.5" stroke="#26a69a" stroke-width="0.95" opacity="0.9"/>
<rect x="1096.5" y="131.3" width="4.1" height="16" fill="#26a69a"/>
<path d="M1103.9 109.9V134" stroke="#26a69a" stroke-width="0.95" opacity="0.9"/>
<rect x="1101.9" y="113.7" width="4.1" height="18.3" fill="#26a69a"/>
<path d="M1109.3 102.5V129.8" stroke="#ef5350" stroke-width="0.95" opacity="0.9"/>
<rect x="1107.3" y="115.8" width="4.1" height="13" fill="#ef5350"/>
<path d="M1114.7 113V161.3" stroke="#ef5350" stroke-width="0.95" opacity="0.9"/>
<rect x="1112.7" y="127.1" width="4.1" height="15.3" fill="#ef5350"/>
<path d="M1120.2 131.9V144.5" stroke="#ef5350" stroke-width="0.95" opacity="0.9"/>
<rect x="1118.1" y="142.4" width="4.1" height="1.5" fill="#ef5350"/>
<path d="M1125.6 118.7V179.2" stroke="#ef5350" stroke-width="0.95" opacity="0.9"/>
<rect x="1123.5" y="143.5" width="4.1" height="34.6" fill="#ef5350"/>
<path d="M1131 168.7V220.1" stroke="#ef5350" stroke-width="0.95" opacity="0.9"/>
<rect x="1128.9" y="178.1" width="4.1" height="22" fill="#ef5350"/>
<path d="M1136.4 177.1V223.3" stroke="#ef5350" stroke-width="0.95" opacity="0.9"/>
<rect x="1134.3" y="198.1" width="4.1" height="18.9" fill="#ef5350"/>
<path d="M1141.8 185.9V265.7" stroke="#26a69a" stroke-width="0.95" opacity="0.9"/>
<rect x="1139.7" y="211.9" width="4.1" height="4.8" fill="#26a69a"/>
<path d="M1147.2 195.7V237.7" stroke="#26a69a" stroke-width="0.95" opacity="0.9"/>
<rect x="1145.2" y="210.4" width="4.1" height="2.1" fill="#26a69a"/>
<path d="M1152.6 195.7V237.7" stroke="#ef5350" stroke-width="0.95" opacity="0.9"/>
<rect x="1150.6" y="210" width="4.1" height="21.8" fill="#ef5350"/>
<path d="M1158 211.9V235.6" stroke="#26a69a" stroke-width="0.95" opacity="0.9"/>
<rect x="1156" y="222.6" width="4.1" height="9.9" fill="#26a69a"/>
<path d="M1163.4 202V260.8" stroke="#ef5350" stroke-width="0.95" opacity="0.9"/>
<rect x="1161.4" y="225.1" width="4.1" height="7.3" fill="#ef5350"/>
<path d="M1168.9 199.9V237.7" stroke="#26a69a" stroke-width="0.95" opacity="0.9"/>
<rect x="1166.8" y="232.5" width="4.1" height="2.1" fill="#26a69a"/>
<path d="M1174.3 218.2V258.1" stroke="#ef5350" stroke-width="0.95" opacity="0.9"/>
<rect x="1172.2" y="232.5" width="4.1" height="20.4" fill="#ef5350"/>
<path d="M1179.7 250.8V314.4" stroke="#ef5350" stroke-width="0.95" opacity="0.9"/>
<rect x="1177.6" y="252.4" width="4.1" height="56.7" fill="#ef5350"/>
<path d="M1185.1 300.3V353.1" stroke="#ef5350" stroke-width="0.95" opacity="0.9"/>
<rect x="1183" y="310" width="4.1" height="23.2" fill="#ef5350"/>
<path d="M1190.5 315.9V353.1" stroke="#26a69a" stroke-width="0.95" opacity="0.9"/>
<rect x="1188.4" y="320.7" width="4.1" height="12.5" fill="#26a69a"/>
<path d="M1195.9 295.1V322.7" stroke="#26a69a" stroke-width="0.95" opacity="0.9"/>
<rect x="1193.9" y="301" width="4.1" height="20" fill="#26a69a"/>
<path d="M1201.3 286.3V321" stroke="#ef5350" stroke-width="0.95" opacity="0.9"/>
<rect x="1199.3" y="299" width="4.1" height="22" fill="#ef5350"/>
<path d="M1206.7 287.1V333.2" stroke="#26a69a" stroke-width="0.95" opacity="0.9"/>
<rect x="1204.7" y="313.9" width="4.1" height="7.1" fill="#26a69a"/>
<path d="M1212.1 280.4V321.8" stroke="#ef5350" stroke-width="0.95" opacity="0.9"/>
<rect x="1210.1" y="313.4" width="4.1" height="6.8" fill="#ef5350"/>
<path d="M1217.6 289.3V321.8" stroke="#26a69a" stroke-width="0.95" opacity="0.9"/>
<rect x="1215.5" y="309.1" width="4.1" height="11" fill="#26a69a"/>
<path d="M1223 289.3V319" stroke="#ef5350" stroke-width="0.95" opacity="0.9"/>
<rect x="1220.9" y="312" width="4.1" height="6.9" fill="#ef5350"/>
<path d="M1228.4 285.1V319" stroke="#26a69a" stroke-width="0.95" opacity="0.9"/>
<rect x="1226.3" y="288" width="4.1" height="28.8" fill="#26a69a"/>
<path d="M1233.8 280.4V315.1" stroke="#ef5350" stroke-width="0.95" opacity="0.9"/>
<rect x="1231.7" y="289.3" width="4.1" height="7.1" fill="#ef5350"/>
<path d="M1239.2 280.4V333.2" stroke="#ef5350" stroke-width="0.95" opacity="0.9"/>
<rect x="1237.1" y="296.5" width="4.1" height="27.9" fill="#ef5350"/>
<path d="M1244.6 312.5V365.8" stroke="#26a69a" stroke-width="0.95" opacity="0.9"/>
<rect x="1242.6" y="320.1" width="4.1" height="3.9" fill="#26a69a"/>
<path d="M1250 289.3V370.9" stroke="#ef5350" stroke-width="0.95" opacity="0.9"/>
<rect x="1248" y="318.1" width="4.1" height="46.9" fill="#ef5350"/>
<rect x="616.2" y="347.2" width="55.6" height="26.9" rx="1" fill="#ffffff" fill-opacity="0.2" stroke="#d0d2d8" stroke-opacity="0.85" stroke-width="0.9"/>
<path d="M616.4 347.2V374.1" stroke="#ffffff" stroke-width="1.4"/>
<rect x="102.8" y="134.9" width="1269.5" height="7.5" fill="#2b2f3a" stroke="#ffffff" stroke-width="1.6"/>
<path d="M415 27.6L990 598" stroke="#cf1b5f" stroke-width="2.5" stroke-linecap="round"/>
<path d="M924.5 563.3L1366.3 183.6" stroke="#4caf50" stroke-width="3.8" stroke-linecap="round"/>
<path d="M1102.6 91.2L1281.4 337.6" stroke="#9c27b0" stroke-width="3.8" stroke-linecap="round"/>
<text x="1045.6" y="67.7" font-size="12" font-weight="700" fill="#ffffff" textLength="124.3" lengthAdjust="spacingAndGlyphs">December 2023 highs</text>
<text x="808.8" y="574" font-size="12.5" font-weight="700" fill="#ffffff" textLength="100.7" lengthAdjust="spacingAndGlyphs">2023 LOWS (OCT)</text>
</g>
<text x="16" y="41.0" font-size="10" fill="#c3c6ce" textLength="180.5" lengthAdjust="spacingAndGlyphs">Australian Dollar / U.S. Dollar, 1D, ICE</text>
<text x="204.1" y="41.0" font-size="10" fill="#c3c6ce" textLength="6.1" lengthAdjust="spacingAndGlyphs">O</text>
<text x="210.8" y="41.0" font-size="10" fill="#ef5350" textLength="36.7" lengthAdjust="spacingAndGlyphs">0.65719</text>
<text x="254.4" y="41.0" font-size="10" fill="#c3c6ce" textLength="6.1" lengthAdjust="spacingAndGlyphs">H</text>
<text x="261.1" y="41.0" font-size="10" fill="#ef5350" textLength="36.3" lengthAdjust="spacingAndGlyphs">0.66102</text>
<text x="304.5" y="41.0" font-size="10" fill="#c3c6ce" textLength="4.3" lengthAdjust="spacingAndGlyphs">L</text>
<text x="309.6" y="41.0" font-size="10" fill="#ef5350" textLength="37" lengthAdjust="spacingAndGlyphs">0.65024</text>
<text x="353.1" y="41.0" font-size="10" fill="#c3c6ce" textLength="5.7" lengthAdjust="spacingAndGlyphs">C</text>
<text x="359.5" y="41.0" font-size="10" fill="#ef5350" textLength="36.6" lengthAdjust="spacingAndGlyphs">0.65105</text>
<text x="403.7" y="41.0" font-size="10" fill="#ef5350" textLength="41.2" lengthAdjust="spacingAndGlyphs">−0.00587</text>
<text x="449.9" y="41.0" font-size="10" fill="#ef5350" textLength="39" lengthAdjust="spacingAndGlyphs">(−0.89%)</text>
<g><circle cx="1249.1" cy="584.9" r="8.5" fill="none" stroke="#b44fd0" stroke-width="1.25"/><path d="M1252.2 580L1245.3 585.5H1248.9L1246.1 589.9L1253 584.2H1249.6Z" fill="#b44fd0"/><circle cx="1255.2" cy="578.8" r="3.3" fill="#161a25"/><circle cx="1255.2" cy="578.8" r="2.4" fill="#f0504c"/></g>
<path d="M9.5 596.5H1420.5" stroke="#2a2e39" stroke-width="1"/>
<rect x="9.5" y="601.6" width="1357.8" height="62.8" fill="#7e57c2" fill-opacity="0.12"/>
<path d="M9.5 601.6H1367.3" stroke="#787b86" stroke-opacity="0.6" stroke-width="0.8" stroke-dasharray="3.2 3.2"/>
<path d="M9.5 633.2H1367.3" stroke="#787b86" stroke-opacity="0.35" stroke-width="0.8" stroke-dasharray="3.2 3.2"/>
<path d="M9.5 664.4H1367.3" stroke="#787b86" stroke-opacity="0.6" stroke-width="0.8" stroke-dasharray="3.2 3.2"/>
<g clip-path="url(#cr)">
<polyline points="10.9,636.1 16.3,642.4 21.7,640.4 27.1,639.4 32.5,645.4 38,644.7 43.4,634.3 48.8,637.9 54.2,633.1 59.6,637.1 65,622.2 70.4,627 75.8,632.1 81.2,639.6 86.7,640.4 92.1,644.2 97.5,642.2 102.9,635.4 108.3,620.7 113.7,632.8 119.1,633.3 124.5,629.6 129.9,631.6 135.4,627.3 140.8,636.1 146.2,635.4 151.6,645.4 157,648.7 162.4,643.4 167.8,645.4 173.2,642.4 178.6,636.1 184.1,634.1 189.5,630.3 194.9,620.7 200.3,616 205.7,620.5 211.1,618.2 216.5,631.6 221.9,642.4 227.3,632.8 232.8,638.4 238.2,638.4 243.6,643.7 249,638.4 254.4,638.4 259.8,644.2 265.2,653 270.6,658 276,655 281.4,651.2 286.9,654.2 292.3,656.3 297.7,641.7 303.1,634.8 308.5,632.8 313.9,623.5 319.3,626.8 324.7,617.7 330.1,614.4 335.6,612.7 341,610.7 346.4,606.9 351.8,597.6 357.2,600.6 362.6,606.4 368,619.7 373.4,618.5 378.8,627.3 384.3,639.1 389.7,639.1 395.1,637.1 400.5,649.2 405.9,646.7 411.3,638.4 416.7,636.6 422.1,633.3 427.5,639.1 433,643.7 438.4,632.3 443.8,634.1 449.2,632.8 454.6,617.7 460,606.4 465.4,614.7 470.8,618.5 476.2,619.7 481.7,625.3 487.1,625.3 492.5,633.3 497.9,632.3 503.3,625.3 508.7,630.3 514.1,637.9 519.5,645.9 524.9,634.8 530.4,645.9 535.8,655 541.2,652.5 546.6,649.7 552,648.7 557.4,651.7 562.8,653 568.2,655 573.6,656.8 579.1,658.5 584.5,662.3 589.9,665.1 595.3,667.6 600.7,667.3 606.1,664.3 611.5,661.3 616.9,647.4 622.3,655.5 627.8,658 633.2,653 638.6,640.4 644,641.1 649.4,639.1 654.8,644.7 660.2,642.4 665.6,655.5 671,654.2 676.5,655 681.9,655 687.3,641.1 692.7,642.4 698.1,643.4 703.5,637.9 708.9,639.9 714.3,638.6 719.7,633.3 725.2,635.4 730.6,643.7 736,636.6 741.4,640.4 746.8,645.9 752.2,655.5 757.6,635.9 763,633.3 768.4,646.7 773.9,656.3 779.3,650.5 784.7,641.7 790.1,637.9 795.5,632.8 800.9,629.1 806.3,632.3 811.7,648.7 817.1,651.2 822.5,642.9 828,637.1 833.4,641.7 838.8,643.7 844.2,645.9 849.6,639.9 855,636.1 860.4,644.7 865.8,641.7 871.2,639.1 876.7,630.8 882.1,637.9 887.5,626.5 892.9,619.7 898.3,610.7 903.7,615.2 909.1,625.3 914.5,631.6 919.9,636.6 925.4,637.9 930.8,634.1 936.2,616 941.6,615.2 947,622.8 952.4,617.2 957.8,612.2 963.2,612.2 968.6,615.2 974.1,613.2 979.5,609.7 984.9,606.4 990.3,601.8 995.7,609.7 1001.1,612.7 1006.5,603.9 1011.9,616 1017.3,628.3 1022.8,628.5 1028.2,621 1033.6,625.8 1039,627 1044.4,628.5 1049.8,613.9 1055.2,610.4 1060.6,609.1 1066,609 1071.5,602.4 1076.9,609.3 1082.3,602.4 1087.7,602.6 1093.1,602.4 1098.5,599.7 1103.9,597.3 1109.3,601.3 1114.7,607.1 1120.2,608.5 1125.6,619.6 1131,626.5 1136.4,631.5 1141.8,630.5 1147.2,630.2 1152.6,636.3 1158,633.7 1163.4,635.8 1168.9,636.3 1174.3,641.6 1179.7,656.2 1185.1,661.5 1190.5,657 1195.9,649.6 1201.3,654.1 1206.7,651.7 1212.1,650.9 1217.6,648.2 1223,650.9 1228.4,639 1233.8,641.1 1239.2,648.8 1244.6,649.6 1250,659.4" fill="none" stroke="#7e57c2" stroke-width="1.0" stroke-linejoin="round"/>
<path d="M8.8 652.2C9.7 652.1 12.2 651.8 13.8 651.6C15.5 651.3 17.2 651.1 18.8 650.9C20.5 650.7 22.2 650.5 23.8 650.2C25.5 650 27.2 649.8 28.8 649.6C30.5 649.3 32.2 649 33.8 648.6C35.5 648.3 37.2 647.8 38.8 647.4C40.5 646.9 42.2 646.3 43.9 645.7C45.5 645.2 47.2 644.6 48.9 644C50.5 643.4 52.2 642.9 53.9 642.4C55.5 641.9 57.2 641.4 58.9 640.9C60.5 640.4 62.2 640 63.9 639.6C65.5 639.1 67.2 638.7 68.9 638.3C70.5 638 72.2 637.7 73.9 637.5C75.5 637.3 77.2 637.2 78.9 637.1C80.6 637.1 82.2 637.1 83.9 637.1C85.6 637.1 87.2 637.1 88.9 637.1C90.6 637.1 92.2 637 93.9 636.9C95.6 636.8 97.2 636.7 98.9 636.5C100.6 636.3 102.2 636 103.9 635.8C105.6 635.5 107.2 635.2 108.9 635C110.6 634.8 112.2 634.6 113.9 634.5C115.6 634.4 117.3 634.3 118.9 634.1C120.6 634 122.3 634 123.9 633.9C125.6 633.8 127.3 633.7 128.9 633.6C130.6 633.6 132.3 633.6 133.9 633.7C135.6 633.7 137.3 633.8 138.9 634C140.6 634.2 142.3 634.4 143.9 634.6C145.6 634.8 147.3 635 148.9 635.2C150.6 635.4 152.3 635.6 154 635.7C155.6 635.9 157.3 636 159 636C160.6 636.1 162.3 636.1 164 636.1C165.6 636.1 167.3 636.1 169 636.1C170.6 636.1 172.3 636.1 174 636.2C175.6 636.2 177.3 636.3 179 636.4C180.6 636.5 182.3 636.7 184 636.7C185.6 636.8 187.3 636.8 189 636.7C190.7 636.7 192.3 636.5 194 636.4C195.7 636.2 197.3 635.9 199 635.6C200.7 635.4 202.3 635.1 204 634.9C205.7 634.6 207.3 634.4 209 634.3C210.7 634.1 212.3 634 214 633.9C215.7 633.8 217.3 633.7 219 633.7C220.7 633.6 222.3 633.5 224 633.4C225.7 633.3 227.4 633.2 229 633.1C230.7 633 232.4 632.9 234 632.8C235.7 632.6 237.4 632.5 239 632.4C240.7 632.3 242.4 632.1 244 632C245.7 631.9 247.4 631.9 249 631.9C250.7 632 252.4 632 254 632.2C255.7 632.4 257.4 632.7 259 633.1C260.7 633.5 262.4 634 264.1 634.5C265.7 635 267.4 635.7 269.1 636.4C270.7 637.1 272.4 637.8 274.1 638.5C275.7 639.2 277.4 639.9 279.1 640.6C280.7 641.3 282.4 642 284.1 642.7C285.7 643.3 287.4 643.9 289.1 644.4C290.7 644.9 292.4 645.3 294.1 645.6C295.8 645.8 297.4 646 299.1 646.1C300.8 646.1 302.4 646 304.1 645.8C305.8 645.7 307.4 645.5 309.1 645.2C310.8 644.9 312.4 644.6 314.1 644.2C315.8 643.8 317.4 643.4 319.1 642.9C320.8 642.5 322.4 642 324.1 641.5C325.8 641 327.4 640.5 329.1 639.9C330.8 639.3 332.5 638.6 334.1 637.8C335.8 637 337.5 636.2 339.1 635.3C340.8 634.3 342.5 633.3 344.1 632.2C345.8 631.2 347.5 630 349.1 628.9C350.8 627.7 352.5 626.5 354.1 625.3C355.8 624.2 357.5 622.9 359.1 621.8C360.8 620.8 362.5 619.9 364.1 619.2C365.8 618.4 367.5 617.8 369.2 617.3C370.8 616.9 372.5 616.5 374.2 616.3C375.8 616 377.5 615.9 379.2 615.8C380.8 615.8 382.5 615.9 384.2 616.1C385.8 616.2 387.5 616.5 389.2 616.8C390.8 617.1 392.5 617.5 394.2 618C395.8 618.4 397.5 619 399.2 619.5C400.8 620.1 402.5 620.8 404.2 621.4C405.9 622 407.5 622.6 409.2 623.2C410.9 623.8 412.5 624.4 414.2 625C415.9 625.7 417.5 626.3 419.2 626.9C420.9 627.6 422.5 628.3 424.2 629.1C425.9 629.8 427.5 630.7 429.2 631.5C430.9 632.3 432.5 633 434.2 633.7C435.9 634.3 437.5 634.8 439.2 635.3C440.9 635.7 442.6 636.1 444.2 636.3C445.9 636.5 447.6 636.6 449.2 636.5C450.9 636.5 452.6 636.3 454.2 636C455.9 635.7 457.6 635.2 459.2 634.7C460.9 634.2 462.6 633.6 464.2 633.1C465.9 632.6 467.6 632.1 469.2 631.7C470.9 631.2 472.6 630.7 474.2 630.2C475.9 629.8 477.6 629.4 479.3 629C480.9 628.6 482.6 628.3 484.3 628C485.9 627.7 487.6 627.5 489.3 627.3C490.9 627.1 492.6 626.9 494.3 626.6C495.9 626.4 497.6 626.2 499.3 625.9C500.9 625.7 502.6 625.4 504.3 625.2C505.9 625.1 507.6 625 509.3 625C510.9 625 512.6 625 514.3 625.2C516 625.3 517.6 625.5 519.3 625.7C521 626 522.6 626.2 524.3 626.7C526 627.1 527.6 627.6 529.3 628.3C531 628.9 532.6 629.7 534.3 630.5C536 631.2 537.6 632.1 539.3 632.8C541 633.6 542.6 634.3 544.3 635C546 635.7 547.6 636.3 549.3 636.9C551 637.6 552.7 638.2 554.3 638.8C556 639.4 557.7 640 559.3 640.6C561 641.2 562.7 641.7 564.3 642.3C566 642.9 567.7 643.5 569.3 644.1C571 644.8 572.7 645.4 574.3 646.1C576 646.7 577.7 647.4 579.3 648.1C581 648.8 582.7 649.5 584.3 650.2C586 650.8 587.7 651.5 589.4 652.1C591 652.7 592.7 653.3 594.4 653.9C596 654.5 597.7 655.1 599.4 655.6C601 656.1 602.7 656.5 604.4 656.9C606 657.2 607.7 657.5 609.4 657.8C611 658 612.7 658.1 614.4 658.2C616 658.3 617.7 658.4 619.4 658.5C621.1 658.6 622.7 658.6 624.4 658.7C626.1 658.7 627.7 658.7 629.4 658.6C631.1 658.5 632.7 658.4 634.4 658.2C636.1 658 637.7 657.7 639.4 657.5C641.1 657.2 642.7 656.8 644.4 656.5C646.1 656.2 647.7 655.9 649.4 655.5C651.1 655.2 652.7 654.8 654.4 654.5C656.1 654.1 657.8 653.8 659.4 653.4C661.1 653.1 662.8 652.7 664.4 652.4C666.1 652.1 667.8 651.8 669.4 651.6C671.1 651.3 672.8 651.1 674.4 650.8C676.1 650.6 677.8 650.3 679.4 650.1C681.1 649.8 682.8 649.5 684.4 649.3C686.1 649 687.8 648.7 689.4 648.5C691.1 648.2 692.8 647.9 694.5 647.6C696.1 647.4 697.8 647.1 699.5 646.8C701.1 646.6 702.8 646.3 704.5 646.1C706.1 645.9 707.8 645.6 709.5 645.4C711.1 645.2 712.8 645 714.5 644.9C716.1 644.7 717.8 644.6 719.5 644.4C721.1 644.3 722.8 644.2 724.5 644.1C726.1 644 727.8 643.9 729.5 643.8C731.2 643.7 732.8 643.5 734.5 643.4C736.2 643.2 737.8 643 739.5 642.9C741.2 642.7 742.8 642.5 744.5 642.3C746.2 642.1 747.8 641.9 749.5 641.7C751.2 641.6 752.8 641.4 754.5 641.2C756.2 641.1 757.8 640.9 759.5 640.8C761.2 640.8 762.8 640.8 764.5 640.8C766.2 640.9 767.9 641 769.5 641.1C771.2 641.3 772.9 641.6 774.5 641.7C776.2 641.9 777.9 642 779.5 642.1C781.2 642.2 782.9 642.2 784.5 642.2C786.2 642.2 787.9 642.1 789.5 642.1C791.2 642 792.9 641.9 794.5 641.9C796.2 641.8 797.9 641.8 799.5 641.8C801.2 641.9 802.9 641.9 804.6 642C806.2 642.1 807.9 642.3 809.6 642.4C811.2 642.5 812.9 642.6 814.6 642.6C816.2 642.6 817.9 642.6 819.6 642.5C821.2 642.5 822.9 642.3 824.6 642.2C826.2 642.1 827.9 642 829.6 641.9C831.2 641.9 832.9 641.9 834.6 641.9C836.2 642 837.9 642.1 839.6 642.1C841.3 642.1 842.9 642.1 844.6 642C846.3 641.8 847.9 641.6 849.6 641.4C851.3 641.3 852.9 641 854.6 640.9C856.3 640.8 857.9 640.7 859.6 640.7C861.3 640.7 862.9 640.8 864.6 640.8C866.3 640.9 867.9 641 869.6 641C871.3 641.1 872.9 641.1 874.6 641.1C876.3 641.1 878 641.2 879.6 641.1C881.3 640.9 883 640.7 884.6 640.3C886.3 640 888 639.5 889.6 639C891.3 638.4 893 637.7 894.6 637.1C896.3 636.5 898 635.9 899.6 635.4C901.3 634.9 903 634.4 904.6 634C906.3 633.5 908 633.1 909.7 632.7C911.3 632.4 913 632.1 914.7 631.8C916.3 631.5 918 631.3 919.7 631.1C921.3 630.9 923 630.9 924.7 630.7C926.3 630.5 928 630.2 929.7 629.9C931.3 629.6 933 629.3 934.7 628.9C936.3 628.5 938 628 939.7 627.6C941.3 627.2 943 626.8 944.7 626.3C946.4 625.9 948 625.5 949.7 625.1C951.4 624.7 953 624.2 954.7 623.8C956.4 623.4 958 623.1 959.7 622.7C961.4 622.4 963 622.2 964.7 621.9C966.4 621.7 968 621.6 969.7 621.4C971.4 621.3 973 621.3 974.7 621.1C976.4 620.9 978 620.6 979.7 620.3C981.4 619.9 983.1 619.5 984.7 619C986.4 618.5 988.1 617.9 989.7 617.3C991.4 616.8 993.1 616.3 994.7 615.7C996.4 615.2 998.1 614.6 999.7 614.1C1001.4 613.7 1003.1 613.3 1004.7 613C1006.4 612.8 1008.1 612.6 1009.7 612.5C1011.4 612.4 1013.1 612.5 1014.7 612.6C1016.4 612.7 1018.1 612.8 1019.8 613C1021.4 613.1 1023.1 613.2 1024.8 613.4C1026.4 613.6 1028.1 613.8 1029.8 614.1C1031.4 614.3 1033.1 614.6 1034.8 614.9C1036.4 615.2 1038.1 615.5 1039.8 615.7C1041.4 616 1043.1 616.1 1044.8 616.2C1046.4 616.4 1048.1 616.5 1049.8 616.6C1051.4 616.7 1053.1 616.7 1054.8 616.8C1056.5 616.9 1058.1 617.1 1059.8 617.2C1061.5 617.3 1063.1 617.4 1064.8 617.5C1066.5 617.5 1068.1 617.5 1069.8 617.4C1071.5 617.4 1073.1 617.2 1074.8 617.1C1076.5 617 1078.1 616.9 1079.8 616.7C1081.5 616.5 1083.1 616.2 1084.8 615.9C1086.5 615.5 1088.1 615 1089.8 614.5C1091.5 614 1093.2 613.3 1094.8 612.7C1096.5 612.1 1098.2 611.5 1099.8 611C1101.5 610.4 1103.2 609.9 1104.8 609.4C1106.5 608.8 1108.2 608.3 1109.8 607.9C1111.5 607.4 1113.2 606.9 1114.8 606.6C1116.5 606.2 1118.2 606 1119.8 605.9C1121.5 605.8 1123.2 605.7 1124.8 605.9C1126.5 606 1128.2 606.4 1129.9 606.7C1131.5 607.1 1133.2 607.5 1134.9 607.9C1136.5 608.4 1138.2 608.9 1139.9 609.5C1141.5 610 1143.2 610.6 1144.9 611.2C1146.5 611.8 1148.2 612.5 1149.9 613.1C1151.5 613.8 1153.2 614.5 1154.9 615.2C1156.5 615.9 1158.2 616.7 1159.9 617.4C1161.5 618.2 1163.2 618.9 1164.9 619.7C1166.6 620.5 1168.2 621.4 1169.9 622.3C1171.6 623.1 1173.2 624.1 1174.9 625.1C1176.6 626.1 1178.2 627.2 1179.9 628.3C1181.6 629.4 1183.2 630.5 1184.9 631.6C1186.6 632.7 1188.2 633.7 1189.9 634.8C1191.6 635.8 1193.2 636.9 1194.9 637.9C1196.6 638.8 1198.3 639.7 1199.9 640.5C1201.6 641.4 1203.3 642.1 1204.9 642.8C1206.6 643.4 1208.3 644 1209.9 644.6C1211.6 645.1 1213.3 645.5 1214.9 645.9C1216.6 646.4 1218.3 646.7 1219.9 647C1221.6 647.4 1223.3 647.6 1224.9 647.9C1226.6 648.1 1228.3 648.4 1229.9 648.7C1231.6 648.9 1233.3 649.2 1235 649.4C1236.6 649.7 1238.3 649.9 1240 650.2C1241.6 650.4 1244.1 650.8 1245 650.9" fill="none" stroke="#ecd03a" stroke-width="1.1" stroke-linejoin="round"/>
</g>
<text x="1374.7" y="42.8" font-size="10.5" fill="#c3c6ce" textLength="36.8" lengthAdjust="spacingAndGlyphs">0.69500</text>
<text x="1374.7" y="78.8" font-size="10.5" fill="#c3c6ce" textLength="36.8" lengthAdjust="spacingAndGlyphs">0.69000</text>
<text x="1374.7" y="115" font-size="10.5" fill="#c3c6ce" textLength="36.8" lengthAdjust="spacingAndGlyphs">0.68500</text>
<text x="1374.7" y="151.8" font-size="10.5" fill="#c3c6ce" textLength="36.8" lengthAdjust="spacingAndGlyphs">0.68000</text>
<text x="1374.7" y="188.6" font-size="10.5" fill="#c3c6ce" textLength="36.8" lengthAdjust="spacingAndGlyphs">0.67500</text>
<text x="1374.7" y="225.6" font-size="10.5" fill="#c3c6ce" textLength="36.8" lengthAdjust="spacingAndGlyphs">0.67000</text>
<text x="1374.7" y="263.1" font-size="10.5" fill="#c3c6ce" textLength="36.8" lengthAdjust="spacingAndGlyphs">0.66500</text>
<text x="1374.7" y="300.6" font-size="10.5" fill="#c3c6ce" textLength="36.8" lengthAdjust="spacingAndGlyphs">0.66000</text>
<text x="1374.7" y="331.4" font-size="10.5" fill="#c3c6ce" textLength="36.8" lengthAdjust="spacingAndGlyphs">0.65600</text>
<text x="1374.7" y="392.4" font-size="10.5" fill="#c3c6ce" textLength="36.8" lengthAdjust="spacingAndGlyphs">0.64800</text>
<text x="1374.7" y="423.4" font-size="10.5" fill="#c3c6ce" textLength="36.8" lengthAdjust="spacingAndGlyphs">0.64400</text>
<text x="1374.7" y="484.8" font-size="10.5" fill="#c3c6ce" textLength="36.8" lengthAdjust="spacingAndGlyphs">0.63600</text>
<text x="1374.7" y="516.8" font-size="10.5" fill="#c3c6ce" textLength="36.8" lengthAdjust="spacingAndGlyphs">0.63200</text>
<text x="1374.7" y="544.8" font-size="10.5" fill="#c3c6ce" textLength="36.8" lengthAdjust="spacingAndGlyphs">0.62850</text>
<text x="1374.7" y="571.8" font-size="10.5" fill="#c3c6ce" textLength="36.8" lengthAdjust="spacingAndGlyphs">0.62500</text>
<text x="1374.7" y="621.4" font-size="10.5" fill="#c3c6ce" textLength="25.6" lengthAdjust="spacingAndGlyphs">60.00</text>
<text x="1374.7" y="652.6" font-size="10.5" fill="#c3c6ce" textLength="25.6" lengthAdjust="spacingAndGlyphs">40.00</text>
<text x="1374.7" y="683.4" font-size="10.5" fill="#c3c6ce" textLength="25.6" lengthAdjust="spacingAndGlyphs">20.00</text>
<rect x="1367.2" y="341.8" width="49.7" height="15.8" rx="2" fill="#ffffff"/>
<text x="1374.7" y="353.5" font-size="10.5" fill="#131722" textLength="36.8" lengthAdjust="spacingAndGlyphs">0.65250</text>
<rect x="1367.2" y="396.2" width="49.7" height="15.8" rx="2" fill="#ffffff"/>
<text x="1374.7" y="407.9" font-size="10.5" fill="#131722" textLength="36.8" lengthAdjust="spacingAndGlyphs">0.64600</text>
<rect x="1367.2" y="447.2" width="49.7" height="15.8" rx="2" fill="#ffffff"/>
<text x="1374.7" y="458.9" font-size="10.5" fill="#131722" textLength="36.8" lengthAdjust="spacingAndGlyphs">0.63950</text>
<rect x="1320" y="357.2" width="96.9" height="15.5" rx="2" fill="#ef5350"/>
<path d="M1367.2 357.2V372.7" stroke="#f7a9a7" stroke-width="0.6" stroke-opacity="0.6"/>
<text x="1324.8" y="368.8" font-size="10.5" fill="#ffffff" textLength="37.6" lengthAdjust="spacingAndGlyphs">AUDUSD</text>
<text x="1374.7" y="368.8" font-size="10.5" font-weight="700" fill="#ffffff" textLength="36.8" lengthAdjust="spacingAndGlyphs">0.65105</text>
<text x="65" y="699.8" font-size="10.5" fill="#c3c6ce" text-anchor="middle">Apr</text>
<text x="173.2" y="699.8" font-size="10.5" fill="#c3c6ce" text-anchor="middle">May</text>
<text x="297.7" y="699.8" font-size="10.5" fill="#c3c6ce" text-anchor="middle">Jun</text>
<text x="416.7" y="699.8" font-size="10.5" fill="#c3c6ce" text-anchor="middle">Jul</text>
<text x="530.4" y="699.8" font-size="10.5" fill="#c3c6ce" text-anchor="middle">Aug</text>
<text x="654.8" y="699.8" font-size="10.5" fill="#c3c6ce" text-anchor="middle">Sep</text>
<text x="768.4" y="699.8" font-size="10.5" fill="#c3c6ce" text-anchor="middle">Oct</text>
<text x="887.5" y="699.8" font-size="10.5" fill="#c3c6ce" text-anchor="middle">Nov</text>
<text x="1006.5" y="699.8" font-size="10.5" fill="#c3c6ce" text-anchor="middle">Dec</text>
<text x="1120.2" y="699.8" font-size="10.5" fill="#c3c6ce" text-anchor="middle" font-weight="700">2024</text>
<text x="1244.6" y="699.8" font-size="10.5" fill="#c3c6ce" text-anchor="middle">Feb</text>
<text x="1358.2" y="699.8" font-size="10.5" fill="#c3c6ce" text-anchor="middle">Mar</text>
<g fill="#d9dbe1"><path d="M9.1 718.3H16V726.9H12.2V722H9.1Z"/><circle cx="18.7" cy="720.3" r="1.45"/><path d="M21.4 718.3H25.9L22.9 726.9H19.2Z"/></g>
<text x="29" y="727.7" font-size="11" fill="#d9dbe1" stroke="#d9dbe1" stroke-width="0.3" textLength="62.2" lengthAdjust="spacingAndGlyphs">TradingView</text>
<g opacity="0.72" font-family="'Noto Sans CJK SC', 'WenQuanYi Zen Hei', sans-serif" font-weight="900" font-size="57" transform="translate(1178 695) skewX(-14)"><text x="2.2" y="1.8" fill="#090b11" stroke="#090b11" stroke-width="1.4" textLength="242" lengthAdjust="spacingAndGlyphs">海马财经</text><text x="0" y="0" fill="#c9cacf" stroke="#c9cacf" stroke-width="1.4" textLength="242" lengthAdjust="spacingAndGlyphs">海马财经</text></g>
<g font-weight="700" font-style="italic" font-size="29" transform="translate(1194.5 732.4) scale(1.35 1)"><text x="1.5" y="2" fill="#161a25" fill-opacity="0.8" stroke="#161a25" stroke-width="1.8" textLength="166" lengthAdjust="spacing">zzrt01.cn</text><text x="0" y="0" fill="#1c3e9e" stroke="#1c3e9e" stroke-width="1.8" textLength="166" lengthAdjust="spacing">zzrt01.cn</text></g>
</g>
</svg>
</body></html>
